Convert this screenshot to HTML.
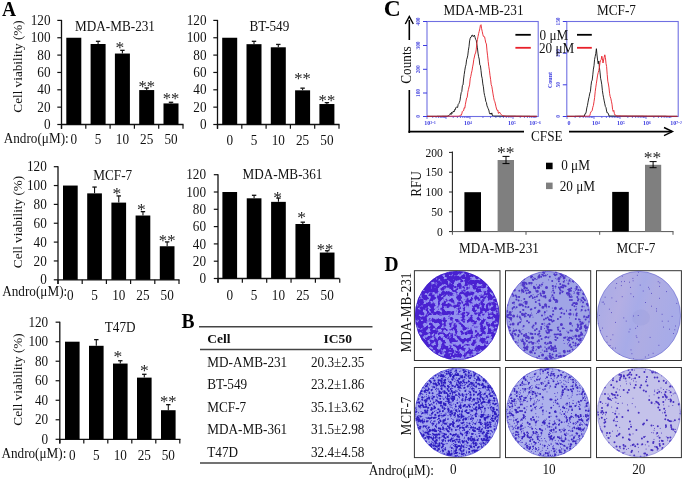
<!DOCTYPE html>
<html><head><meta charset="utf-8"><style>
html,body{margin:0;padding:0;background:#fff;}
svg{display:block;filter:blur(0.35px);}
text{font-family:"Liberation Serif",serif;}
</style></head><body>
<svg width="685" height="479" viewBox="0 0 685 479">
<rect width="685" height="479" fill="#fff"/>
<text transform="translate(2.00,15.60) scale(0.93,1)" font-size="21" text-anchor="start" font-weight="bold" fill="#000" >A</text>
<text transform="translate(181.50,327.60) scale(0.93,1)" font-size="21" text-anchor="start" font-weight="bold" fill="#000" >B</text>
<text transform="translate(383.80,16.00) scale(1.0,1)" font-size="23.5" text-anchor="start" font-weight="bold" fill="#000" >C</text>
<text transform="translate(384.50,270.60) scale(0.93,1)" font-size="21" text-anchor="start" font-weight="bold" fill="#000" >D</text>
<line x1="61.50" y1="19.90" x2="61.50" y2="128.80" stroke="#111" stroke-width="1.3" />
<line x1="57.30" y1="124.50" x2="61.50" y2="124.50" stroke="#111" stroke-width="1.2" />
<text transform="translate(50.50,129.10) scale(0.93,1)" font-size="14.2" text-anchor="end" font-weight="normal" fill="#111" >0</text>
<line x1="57.30" y1="107.15" x2="61.50" y2="107.15" stroke="#111" stroke-width="1.2" />
<text transform="translate(50.50,111.75) scale(0.93,1)" font-size="14.2" text-anchor="end" font-weight="normal" fill="#111" >20</text>
<line x1="57.30" y1="89.80" x2="61.50" y2="89.80" stroke="#111" stroke-width="1.2" />
<text transform="translate(50.50,94.40) scale(0.93,1)" font-size="14.2" text-anchor="end" font-weight="normal" fill="#111" >40</text>
<line x1="57.30" y1="72.45" x2="61.50" y2="72.45" stroke="#111" stroke-width="1.2" />
<text transform="translate(50.50,77.05) scale(0.93,1)" font-size="14.2" text-anchor="end" font-weight="normal" fill="#111" >60</text>
<line x1="57.30" y1="55.10" x2="61.50" y2="55.10" stroke="#111" stroke-width="1.2" />
<text transform="translate(50.50,59.70) scale(0.93,1)" font-size="14.2" text-anchor="end" font-weight="normal" fill="#111" >80</text>
<line x1="57.30" y1="37.75" x2="61.50" y2="37.75" stroke="#111" stroke-width="1.2" />
<text transform="translate(50.50,42.35) scale(0.93,1)" font-size="14.2" text-anchor="end" font-weight="normal" fill="#111" >100</text>
<line x1="57.30" y1="20.40" x2="61.50" y2="20.40" stroke="#111" stroke-width="1.2" />
<text transform="translate(50.50,25.00) scale(0.93,1)" font-size="14.2" text-anchor="end" font-weight="normal" fill="#111" >120</text>
<line x1="61.50" y1="124.50" x2="183.50" y2="124.50" stroke="#111" stroke-width="1.3" />
<line x1="61.50" y1="124.50" x2="61.50" y2="128.80" stroke="#111" stroke-width="1.2" />
<line x1="85.80" y1="124.50" x2="85.80" y2="128.80" stroke="#111" stroke-width="1.2" />
<line x1="110.10" y1="124.50" x2="110.10" y2="128.80" stroke="#111" stroke-width="1.2" />
<line x1="134.40" y1="124.50" x2="134.40" y2="128.80" stroke="#111" stroke-width="1.2" />
<line x1="158.70" y1="124.50" x2="158.70" y2="128.80" stroke="#111" stroke-width="1.2" />
<line x1="183.00" y1="124.50" x2="183.00" y2="128.80" stroke="#111" stroke-width="1.2" />
<rect x="66.30" y="37.75" width="15.00" height="86.75" fill="#000" />
<text transform="translate(73.80,144.00) scale(0.93,1)" font-size="14.2" text-anchor="middle" font-weight="normal" fill="#111" >0</text>
<rect x="90.60" y="44.00" width="15.00" height="80.50" fill="#000" />
<line x1="98.10" y1="41.31" x2="98.10" y2="44.00" stroke="#111" stroke-width="1.1" />
<line x1="95.90" y1="41.31" x2="100.30" y2="41.31" stroke="#111" stroke-width="1.3" />
<text transform="translate(98.10,144.00) scale(0.93,1)" font-size="14.2" text-anchor="middle" font-weight="normal" fill="#111" >5</text>
<rect x="114.90" y="53.54" width="15.00" height="70.96" fill="#000" />
<line x1="122.40" y1="50.33" x2="122.40" y2="53.54" stroke="#111" stroke-width="1.1" />
<line x1="120.20" y1="50.33" x2="124.60" y2="50.33" stroke="#111" stroke-width="1.3" />
<text transform="translate(119.90,53.24) scale(1,1)" font-size="17.5" text-anchor="middle" font-weight="normal" fill="#222" >*</text>
<text transform="translate(122.40,144.00) scale(0.93,1)" font-size="14.2" text-anchor="middle" font-weight="normal" fill="#111" >10</text>
<rect x="139.20" y="90.06" width="15.00" height="34.44" fill="#000" />
<line x1="146.70" y1="87.98" x2="146.70" y2="90.06" stroke="#111" stroke-width="1.1" />
<line x1="144.50" y1="87.98" x2="148.90" y2="87.98" stroke="#111" stroke-width="1.3" />
<text transform="translate(146.70,92.04) scale(0.95,1)" font-size="17.5" text-anchor="middle" font-weight="normal" fill="#222" >**</text>
<text transform="translate(146.70,144.00) scale(0.93,1)" font-size="14.2" text-anchor="middle" font-weight="normal" fill="#111" >25</text>
<rect x="163.50" y="103.42" width="15.00" height="21.08" fill="#000" />
<line x1="171.00" y1="102.29" x2="171.00" y2="103.42" stroke="#111" stroke-width="1.1" />
<line x1="168.80" y1="102.29" x2="173.20" y2="102.29" stroke="#111" stroke-width="1.3" />
<text transform="translate(171.00,104.44) scale(0.95,1)" font-size="17.5" text-anchor="middle" font-weight="normal" fill="#222" >**</text>
<text transform="translate(171.00,144.00) scale(0.93,1)" font-size="14.2" text-anchor="middle" font-weight="normal" fill="#111" >50</text>
<text transform="translate(115.00,30.60) scale(0.93,1)" font-size="14.2" text-anchor="middle" font-weight="normal" fill="#111" >MDA-MB-231</text>
<text transform="translate(3.70,143.40) scale(0.93,1)" font-size="14.2" text-anchor="start" font-weight="normal" fill="#111" >Andro(μM):</text>
<text x="0" y="0" font-size="14.2" text-anchor="middle" fill="#111" transform="translate(21.50,66.50) rotate(-90) scale(0.93,0.88)">Cell viability (%)</text>
<line x1="217.50" y1="19.90" x2="217.50" y2="128.80" stroke="#111" stroke-width="1.3" />
<line x1="213.30" y1="124.50" x2="217.50" y2="124.50" stroke="#111" stroke-width="1.2" />
<text transform="translate(206.50,129.10) scale(0.93,1)" font-size="14.2" text-anchor="end" font-weight="normal" fill="#111" >0</text>
<line x1="213.30" y1="107.15" x2="217.50" y2="107.15" stroke="#111" stroke-width="1.2" />
<text transform="translate(206.50,111.75) scale(0.93,1)" font-size="14.2" text-anchor="end" font-weight="normal" fill="#111" >20</text>
<line x1="213.30" y1="89.80" x2="217.50" y2="89.80" stroke="#111" stroke-width="1.2" />
<text transform="translate(206.50,94.40) scale(0.93,1)" font-size="14.2" text-anchor="end" font-weight="normal" fill="#111" >40</text>
<line x1="213.30" y1="72.45" x2="217.50" y2="72.45" stroke="#111" stroke-width="1.2" />
<text transform="translate(206.50,77.05) scale(0.93,1)" font-size="14.2" text-anchor="end" font-weight="normal" fill="#111" >60</text>
<line x1="213.30" y1="55.10" x2="217.50" y2="55.10" stroke="#111" stroke-width="1.2" />
<text transform="translate(206.50,59.70) scale(0.93,1)" font-size="14.2" text-anchor="end" font-weight="normal" fill="#111" >80</text>
<line x1="213.30" y1="37.75" x2="217.50" y2="37.75" stroke="#111" stroke-width="1.2" />
<text transform="translate(206.50,42.35) scale(0.93,1)" font-size="14.2" text-anchor="end" font-weight="normal" fill="#111" >100</text>
<line x1="213.30" y1="20.40" x2="217.50" y2="20.40" stroke="#111" stroke-width="1.2" />
<text transform="translate(206.50,25.00) scale(0.93,1)" font-size="14.2" text-anchor="end" font-weight="normal" fill="#111" >120</text>
<line x1="217.50" y1="124.50" x2="339.50" y2="124.50" stroke="#111" stroke-width="1.3" />
<line x1="217.50" y1="124.50" x2="217.50" y2="128.80" stroke="#111" stroke-width="1.2" />
<line x1="241.80" y1="124.50" x2="241.80" y2="128.80" stroke="#111" stroke-width="1.2" />
<line x1="266.10" y1="124.50" x2="266.10" y2="128.80" stroke="#111" stroke-width="1.2" />
<line x1="290.40" y1="124.50" x2="290.40" y2="128.80" stroke="#111" stroke-width="1.2" />
<line x1="314.70" y1="124.50" x2="314.70" y2="128.80" stroke="#111" stroke-width="1.2" />
<line x1="339.00" y1="124.50" x2="339.00" y2="128.80" stroke="#111" stroke-width="1.2" />
<rect x="222.20" y="37.75" width="15.00" height="86.75" fill="#000" />
<text transform="translate(229.70,144.50) scale(0.93,1)" font-size="14.2" text-anchor="middle" font-weight="normal" fill="#111" >0</text>
<rect x="246.50" y="44.17" width="15.00" height="80.33" fill="#000" />
<line x1="254.00" y1="41.31" x2="254.00" y2="44.17" stroke="#111" stroke-width="1.1" />
<line x1="251.80" y1="41.31" x2="256.20" y2="41.31" stroke="#111" stroke-width="1.3" />
<text transform="translate(254.00,144.50) scale(0.93,1)" font-size="14.2" text-anchor="middle" font-weight="normal" fill="#111" >5</text>
<rect x="270.80" y="47.29" width="15.00" height="77.21" fill="#000" />
<line x1="278.30" y1="44.43" x2="278.30" y2="47.29" stroke="#111" stroke-width="1.1" />
<line x1="276.10" y1="44.43" x2="280.50" y2="44.43" stroke="#111" stroke-width="1.3" />
<text transform="translate(278.30,144.50) scale(0.93,1)" font-size="14.2" text-anchor="middle" font-weight="normal" fill="#111" >10</text>
<rect x="295.10" y="90.32" width="15.00" height="34.18" fill="#000" />
<line x1="302.60" y1="88.15" x2="302.60" y2="90.32" stroke="#111" stroke-width="1.1" />
<line x1="300.40" y1="88.15" x2="304.80" y2="88.15" stroke="#111" stroke-width="1.3" />
<text transform="translate(302.60,83.64) scale(0.95,1)" font-size="17.5" text-anchor="middle" font-weight="normal" fill="#222" >**</text>
<text transform="translate(302.60,144.50) scale(0.93,1)" font-size="14.2" text-anchor="middle" font-weight="normal" fill="#111" >25</text>
<rect x="319.40" y="104.03" width="15.00" height="20.47" fill="#000" />
<line x1="326.90" y1="102.64" x2="326.90" y2="104.03" stroke="#111" stroke-width="1.1" />
<line x1="324.70" y1="102.64" x2="329.10" y2="102.64" stroke="#111" stroke-width="1.3" />
<text transform="translate(326.90,105.94) scale(0.95,1)" font-size="17.5" text-anchor="middle" font-weight="normal" fill="#222" >**</text>
<text transform="translate(326.90,144.50) scale(0.93,1)" font-size="14.2" text-anchor="middle" font-weight="normal" fill="#111" >50</text>
<text transform="translate(269.40,30.50) scale(0.93,1)" font-size="14.2" text-anchor="middle" font-weight="normal" fill="#111" >BT-549</text>
<line x1="58.00" y1="166.20" x2="58.00" y2="284.10" stroke="#111" stroke-width="1.3" />
<line x1="53.80" y1="279.80" x2="58.00" y2="279.80" stroke="#111" stroke-width="1.2" />
<text transform="translate(46.80,284.40) scale(0.93,1)" font-size="14.2" text-anchor="end" font-weight="normal" fill="#111" >0</text>
<line x1="53.80" y1="260.95" x2="58.00" y2="260.95" stroke="#111" stroke-width="1.2" />
<text transform="translate(46.80,265.55) scale(0.93,1)" font-size="14.2" text-anchor="end" font-weight="normal" fill="#111" >20</text>
<line x1="53.80" y1="242.10" x2="58.00" y2="242.10" stroke="#111" stroke-width="1.2" />
<text transform="translate(46.80,246.70) scale(0.93,1)" font-size="14.2" text-anchor="end" font-weight="normal" fill="#111" >40</text>
<line x1="53.80" y1="223.25" x2="58.00" y2="223.25" stroke="#111" stroke-width="1.2" />
<text transform="translate(46.80,227.85) scale(0.93,1)" font-size="14.2" text-anchor="end" font-weight="normal" fill="#111" >60</text>
<line x1="53.80" y1="204.40" x2="58.00" y2="204.40" stroke="#111" stroke-width="1.2" />
<text transform="translate(46.80,209.00) scale(0.93,1)" font-size="14.2" text-anchor="end" font-weight="normal" fill="#111" >80</text>
<line x1="53.80" y1="185.55" x2="58.00" y2="185.55" stroke="#111" stroke-width="1.2" />
<text transform="translate(46.80,190.15) scale(0.93,1)" font-size="14.2" text-anchor="end" font-weight="normal" fill="#111" >100</text>
<line x1="53.80" y1="166.70" x2="58.00" y2="166.70" stroke="#111" stroke-width="1.2" />
<text transform="translate(46.80,171.30) scale(0.93,1)" font-size="14.2" text-anchor="end" font-weight="normal" fill="#111" >120</text>
<line x1="58.00" y1="279.80" x2="179.50" y2="279.80" stroke="#111" stroke-width="1.3" />
<line x1="58.00" y1="279.80" x2="58.00" y2="284.10" stroke="#111" stroke-width="1.2" />
<line x1="82.20" y1="279.80" x2="82.20" y2="284.10" stroke="#111" stroke-width="1.2" />
<line x1="106.40" y1="279.80" x2="106.40" y2="284.10" stroke="#111" stroke-width="1.2" />
<line x1="130.60" y1="279.80" x2="130.60" y2="284.10" stroke="#111" stroke-width="1.2" />
<line x1="154.80" y1="279.80" x2="154.80" y2="284.10" stroke="#111" stroke-width="1.2" />
<line x1="179.00" y1="279.80" x2="179.00" y2="284.10" stroke="#111" stroke-width="1.2" />
<rect x="63.00" y="185.55" width="14.70" height="94.25" fill="#000" />
<text transform="translate(70.35,299.50) scale(0.93,1)" font-size="14.2" text-anchor="middle" font-weight="normal" fill="#111" >0</text>
<rect x="87.20" y="193.37" width="14.70" height="86.43" fill="#000" />
<line x1="94.55" y1="187.06" x2="94.55" y2="193.37" stroke="#111" stroke-width="1.1" />
<line x1="92.35" y1="187.06" x2="96.75" y2="187.06" stroke="#111" stroke-width="1.3" />
<text transform="translate(94.55,299.50) scale(0.93,1)" font-size="14.2" text-anchor="middle" font-weight="normal" fill="#111" >5</text>
<rect x="111.40" y="202.61" width="14.70" height="77.19" fill="#000" />
<line x1="118.75" y1="195.92" x2="118.75" y2="202.61" stroke="#111" stroke-width="1.1" />
<line x1="116.55" y1="195.92" x2="120.95" y2="195.92" stroke="#111" stroke-width="1.3" />
<text transform="translate(116.95,198.84) scale(1,1)" font-size="17.5" text-anchor="middle" font-weight="normal" fill="#222" >*</text>
<text transform="translate(118.75,299.50) scale(0.93,1)" font-size="14.2" text-anchor="middle" font-weight="normal" fill="#111" >10</text>
<rect x="135.60" y="215.52" width="14.70" height="64.28" fill="#000" />
<line x1="142.95" y1="211.66" x2="142.95" y2="215.52" stroke="#111" stroke-width="1.1" />
<line x1="140.75" y1="211.66" x2="145.15" y2="211.66" stroke="#111" stroke-width="1.3" />
<text transform="translate(141.45,214.54) scale(1,1)" font-size="17.5" text-anchor="middle" font-weight="normal" fill="#222" >*</text>
<text transform="translate(142.95,299.50) scale(0.93,1)" font-size="14.2" text-anchor="middle" font-weight="normal" fill="#111" >25</text>
<rect x="159.80" y="246.25" width="14.70" height="33.55" fill="#000" />
<line x1="167.15" y1="241.91" x2="167.15" y2="246.25" stroke="#111" stroke-width="1.1" />
<line x1="164.95" y1="241.91" x2="169.35" y2="241.91" stroke="#111" stroke-width="1.3" />
<text transform="translate(167.15,246.34) scale(0.95,1)" font-size="17.5" text-anchor="middle" font-weight="normal" fill="#222" >**</text>
<text transform="translate(167.15,299.50) scale(0.93,1)" font-size="14.2" text-anchor="middle" font-weight="normal" fill="#111" >50</text>
<text transform="translate(112.70,180.00) scale(0.93,1)" font-size="14.2" text-anchor="middle" font-weight="normal" fill="#111" >MCF-7</text>
<text transform="translate(2.20,296.40) scale(0.93,1)" font-size="14.2" text-anchor="start" font-weight="normal" fill="#111" >Andro(μM):</text>
<text x="0" y="0" font-size="14.2" text-anchor="middle" fill="#111" transform="translate(21.50,222.00) rotate(-90) scale(0.93,0.88)">Cell viability (%)</text>
<line x1="218.00" y1="174.20" x2="218.00" y2="282.80" stroke="#111" stroke-width="1.3" />
<line x1="213.80" y1="278.50" x2="218.00" y2="278.50" stroke="#111" stroke-width="1.2" />
<text transform="translate(206.00,283.10) scale(0.93,1)" font-size="14.2" text-anchor="end" font-weight="normal" fill="#111" >0</text>
<line x1="213.80" y1="261.20" x2="218.00" y2="261.20" stroke="#111" stroke-width="1.2" />
<text transform="translate(206.00,265.80) scale(0.93,1)" font-size="14.2" text-anchor="end" font-weight="normal" fill="#111" >20</text>
<line x1="213.80" y1="243.90" x2="218.00" y2="243.90" stroke="#111" stroke-width="1.2" />
<text transform="translate(206.00,248.50) scale(0.93,1)" font-size="14.2" text-anchor="end" font-weight="normal" fill="#111" >40</text>
<line x1="213.80" y1="226.60" x2="218.00" y2="226.60" stroke="#111" stroke-width="1.2" />
<text transform="translate(206.00,231.20) scale(0.93,1)" font-size="14.2" text-anchor="end" font-weight="normal" fill="#111" >60</text>
<line x1="213.80" y1="209.30" x2="218.00" y2="209.30" stroke="#111" stroke-width="1.2" />
<text transform="translate(206.00,213.90) scale(0.93,1)" font-size="14.2" text-anchor="end" font-weight="normal" fill="#111" >80</text>
<line x1="213.80" y1="192.00" x2="218.00" y2="192.00" stroke="#111" stroke-width="1.2" />
<text transform="translate(206.00,196.60) scale(0.93,1)" font-size="14.2" text-anchor="end" font-weight="normal" fill="#111" >100</text>
<line x1="213.80" y1="174.70" x2="218.00" y2="174.70" stroke="#111" stroke-width="1.2" />
<text transform="translate(206.00,179.30) scale(0.93,1)" font-size="14.2" text-anchor="end" font-weight="normal" fill="#111" >120</text>
<line x1="218.00" y1="278.50" x2="339.50" y2="278.50" stroke="#111" stroke-width="1.3" />
<line x1="218.00" y1="278.50" x2="218.00" y2="282.80" stroke="#111" stroke-width="1.2" />
<line x1="242.35" y1="278.50" x2="242.35" y2="282.80" stroke="#111" stroke-width="1.2" />
<line x1="266.70" y1="278.50" x2="266.70" y2="282.80" stroke="#111" stroke-width="1.2" />
<line x1="291.05" y1="278.50" x2="291.05" y2="282.80" stroke="#111" stroke-width="1.2" />
<line x1="315.40" y1="278.50" x2="315.40" y2="282.80" stroke="#111" stroke-width="1.2" />
<line x1="339.75" y1="278.50" x2="339.75" y2="282.80" stroke="#111" stroke-width="1.2" />
<rect x="222.40" y="192.00" width="14.70" height="86.50" fill="#000" />
<text transform="translate(229.75,299.70) scale(0.93,1)" font-size="14.2" text-anchor="middle" font-weight="normal" fill="#111" >0</text>
<rect x="246.75" y="198.31" width="14.70" height="80.19" fill="#000" />
<line x1="254.10" y1="195.29" x2="254.10" y2="198.31" stroke="#111" stroke-width="1.1" />
<line x1="251.90" y1="195.29" x2="256.30" y2="195.29" stroke="#111" stroke-width="1.3" />
<text transform="translate(254.10,299.70) scale(0.93,1)" font-size="14.2" text-anchor="middle" font-weight="normal" fill="#111" >5</text>
<rect x="271.10" y="201.86" width="14.70" height="76.64" fill="#000" />
<line x1="278.45" y1="198.06" x2="278.45" y2="201.86" stroke="#111" stroke-width="1.1" />
<line x1="276.25" y1="198.06" x2="280.65" y2="198.06" stroke="#111" stroke-width="1.3" />
<text transform="translate(277.55,202.64) scale(1,1)" font-size="17.5" text-anchor="middle" font-weight="normal" fill="#222" >*</text>
<text transform="translate(278.45,299.70) scale(0.93,1)" font-size="14.2" text-anchor="middle" font-weight="normal" fill="#111" >10</text>
<rect x="295.45" y="224.00" width="14.70" height="54.50" fill="#000" />
<line x1="302.80" y1="222.19" x2="302.80" y2="224.00" stroke="#111" stroke-width="1.1" />
<line x1="300.60" y1="222.19" x2="305.00" y2="222.19" stroke="#111" stroke-width="1.3" />
<text transform="translate(301.60,223.44) scale(1,1)" font-size="17.5" text-anchor="middle" font-weight="normal" fill="#222" >*</text>
<text transform="translate(302.80,299.70) scale(0.93,1)" font-size="14.2" text-anchor="middle" font-weight="normal" fill="#111" >25</text>
<rect x="319.80" y="252.55" width="14.70" height="25.95" fill="#000" />
<line x1="327.15" y1="250.73" x2="327.15" y2="252.55" stroke="#111" stroke-width="1.1" />
<line x1="324.95" y1="250.73" x2="329.35" y2="250.73" stroke="#111" stroke-width="1.3" />
<text transform="translate(325.05,255.14) scale(0.95,1)" font-size="17.5" text-anchor="middle" font-weight="normal" fill="#222" >**</text>
<text transform="translate(327.15,299.70) scale(0.93,1)" font-size="14.2" text-anchor="middle" font-weight="normal" fill="#111" >50</text>
<text transform="translate(282.40,179.20) scale(0.93,1)" font-size="14.2" text-anchor="middle" font-weight="normal" fill="#111" >MDA-MB-361</text>
<line x1="59.80" y1="321.68" x2="59.80" y2="443.60" stroke="#111" stroke-width="1.3" />
<line x1="55.60" y1="439.30" x2="59.80" y2="439.30" stroke="#111" stroke-width="1.2" />
<text transform="translate(48.20,443.90) scale(0.93,1)" font-size="14.2" text-anchor="end" font-weight="normal" fill="#111" >0</text>
<line x1="55.60" y1="419.78" x2="59.80" y2="419.78" stroke="#111" stroke-width="1.2" />
<text transform="translate(48.20,424.38) scale(0.93,1)" font-size="14.2" text-anchor="end" font-weight="normal" fill="#111" >20</text>
<line x1="55.60" y1="400.26" x2="59.80" y2="400.26" stroke="#111" stroke-width="1.2" />
<text transform="translate(48.20,404.86) scale(0.93,1)" font-size="14.2" text-anchor="end" font-weight="normal" fill="#111" >40</text>
<line x1="55.60" y1="380.74" x2="59.80" y2="380.74" stroke="#111" stroke-width="1.2" />
<text transform="translate(48.20,385.34) scale(0.93,1)" font-size="14.2" text-anchor="end" font-weight="normal" fill="#111" >60</text>
<line x1="55.60" y1="361.22" x2="59.80" y2="361.22" stroke="#111" stroke-width="1.2" />
<text transform="translate(48.20,365.82) scale(0.93,1)" font-size="14.2" text-anchor="end" font-weight="normal" fill="#111" >80</text>
<line x1="55.60" y1="341.70" x2="59.80" y2="341.70" stroke="#111" stroke-width="1.2" />
<text transform="translate(48.20,346.30) scale(0.93,1)" font-size="14.2" text-anchor="end" font-weight="normal" fill="#111" >100</text>
<line x1="55.60" y1="322.18" x2="59.80" y2="322.18" stroke="#111" stroke-width="1.2" />
<text transform="translate(48.20,326.78) scale(0.93,1)" font-size="14.2" text-anchor="end" font-weight="normal" fill="#111" >120</text>
<line x1="59.80" y1="439.30" x2="180.50" y2="439.30" stroke="#111" stroke-width="1.3" />
<line x1="59.80" y1="439.30" x2="59.80" y2="443.60" stroke="#111" stroke-width="1.2" />
<line x1="83.80" y1="439.30" x2="83.80" y2="443.60" stroke="#111" stroke-width="1.2" />
<line x1="107.80" y1="439.30" x2="107.80" y2="443.60" stroke="#111" stroke-width="1.2" />
<line x1="131.80" y1="439.30" x2="131.80" y2="443.60" stroke="#111" stroke-width="1.2" />
<line x1="155.80" y1="439.30" x2="155.80" y2="443.60" stroke="#111" stroke-width="1.2" />
<line x1="179.80" y1="439.30" x2="179.80" y2="443.60" stroke="#111" stroke-width="1.2" />
<rect x="65.00" y="341.70" width="14.60" height="97.60" fill="#000" />
<text transform="translate(72.30,460.00) scale(0.93,1)" font-size="14.2" text-anchor="middle" font-weight="normal" fill="#111" >0</text>
<rect x="89.00" y="345.80" width="14.60" height="93.50" fill="#000" />
<line x1="96.30" y1="339.65" x2="96.30" y2="345.80" stroke="#111" stroke-width="1.1" />
<line x1="94.10" y1="339.65" x2="98.50" y2="339.65" stroke="#111" stroke-width="1.3" />
<text transform="translate(96.30,460.00) scale(0.93,1)" font-size="14.2" text-anchor="middle" font-weight="normal" fill="#111" >5</text>
<rect x="113.00" y="363.56" width="14.60" height="75.74" fill="#000" />
<line x1="120.30" y1="360.73" x2="120.30" y2="363.56" stroke="#111" stroke-width="1.1" />
<line x1="118.10" y1="360.73" x2="122.50" y2="360.73" stroke="#111" stroke-width="1.3" />
<text transform="translate(117.80,361.54) scale(1,1)" font-size="17.5" text-anchor="middle" font-weight="normal" fill="#222" >*</text>
<text transform="translate(120.30,460.00) scale(0.93,1)" font-size="14.2" text-anchor="middle" font-weight="normal" fill="#111" >10</text>
<rect x="137.00" y="377.62" width="14.60" height="61.68" fill="#000" />
<line x1="144.30" y1="374.30" x2="144.30" y2="377.62" stroke="#111" stroke-width="1.1" />
<line x1="142.10" y1="374.30" x2="146.50" y2="374.30" stroke="#111" stroke-width="1.3" />
<text transform="translate(144.30,375.54) scale(1,1)" font-size="17.5" text-anchor="middle" font-weight="normal" fill="#222" >*</text>
<text transform="translate(144.30,460.00) scale(0.93,1)" font-size="14.2" text-anchor="middle" font-weight="normal" fill="#111" >25</text>
<rect x="161.00" y="410.22" width="14.60" height="29.08" fill="#000" />
<line x1="168.30" y1="404.65" x2="168.30" y2="410.22" stroke="#111" stroke-width="1.1" />
<line x1="166.10" y1="404.65" x2="170.50" y2="404.65" stroke="#111" stroke-width="1.3" />
<text transform="translate(168.30,406.84) scale(0.95,1)" font-size="17.5" text-anchor="middle" font-weight="normal" fill="#222" >**</text>
<text transform="translate(168.30,460.00) scale(0.93,1)" font-size="14.2" text-anchor="middle" font-weight="normal" fill="#111" >50</text>
<text transform="translate(120.20,332.20) scale(0.93,1)" font-size="14.2" text-anchor="middle" font-weight="normal" fill="#111" >T47D</text>
<text transform="translate(1.40,457.70) scale(0.93,1)" font-size="14.2" text-anchor="start" font-weight="normal" fill="#111" >Andro(μM):</text>
<text x="0" y="0" font-size="14.2" text-anchor="middle" fill="#111" transform="translate(21.50,379.50) rotate(-90) scale(0.93,0.88)">Cell viability (%)</text>
<line x1="199.00" y1="326.80" x2="372.50" y2="326.80" stroke="#444" stroke-width="1.5" />
<line x1="200.00" y1="349.60" x2="372.00" y2="349.60" stroke="#444" stroke-width="1.5" />
<line x1="200.00" y1="463.00" x2="372.00" y2="463.00" stroke="#444" stroke-width="1.5" />
<text transform="translate(207.30,343.20) scale(1,1)" font-size="13.5" text-anchor="start" font-weight="bold" fill="#111" >Cell</text>
<text transform="translate(323.50,343.20) scale(1,1)" font-size="13.5" text-anchor="start" font-weight="bold" fill="#111" >IC50</text>
<text transform="translate(207.30,366.80) scale(0.93,1)" font-size="14.2" text-anchor="start" font-weight="normal" fill="#111" >MD-AMB-231</text>
<text transform="translate(310.90,366.80) scale(0.93,1)" font-size="14.2" text-anchor="start" font-weight="normal" fill="#111" >20.3±2.35</text>
<text transform="translate(207.30,389.30) scale(0.93,1)" font-size="14.2" text-anchor="start" font-weight="normal" fill="#111" >BT-549</text>
<text transform="translate(310.90,389.30) scale(0.93,1)" font-size="14.2" text-anchor="start" font-weight="normal" fill="#111" >23.2±1.86</text>
<text transform="translate(207.30,411.80) scale(0.93,1)" font-size="14.2" text-anchor="start" font-weight="normal" fill="#111" >MCF-7</text>
<text transform="translate(310.90,411.80) scale(0.93,1)" font-size="14.2" text-anchor="start" font-weight="normal" fill="#111" >35.1±3.62</text>
<text transform="translate(207.30,434.30) scale(0.93,1)" font-size="14.2" text-anchor="start" font-weight="normal" fill="#111" >MDA-MB-361</text>
<text transform="translate(310.90,434.30) scale(0.93,1)" font-size="14.2" text-anchor="start" font-weight="normal" fill="#111" >31.5±2.98</text>
<text transform="translate(207.30,456.80) scale(0.93,1)" font-size="14.2" text-anchor="start" font-weight="normal" fill="#111" >T47D</text>
<text transform="translate(310.90,456.80) scale(0.93,1)" font-size="14.2" text-anchor="start" font-weight="normal" fill="#111" >32.4±4.58</text>
<text transform="translate(443.60,15.00) scale(0.93,1)" font-size="14.2" text-anchor="start" font-weight="normal" fill="#111" >MDA-MB-231</text>
<text transform="translate(597.00,15.00) scale(0.93,1)" font-size="14.2" text-anchor="start" font-weight="normal" fill="#111" >MCF-7</text>
<line x1="409.30" y1="20.00" x2="409.30" y2="40.00" stroke="#000" stroke-width="1.6" />
<path d="M405.3,24 L409.3,16.5 L413.3,24" fill="none" stroke="#000" stroke-width="1.4"/>
<line x1="409.30" y1="90.00" x2="409.30" y2="133.00" stroke="#000" stroke-width="1.6" />
<text x="0" y="0" font-size="14.2" text-anchor="middle" fill="#111" transform="translate(410.80,65.00) rotate(-90) scale(0.93,1)">Counts</text>
<line x1="408.50" y1="131.60" x2="524.00" y2="131.60" stroke="#000" stroke-width="1.6" />
<line x1="569.00" y1="131.60" x2="672.00" y2="131.60" stroke="#000" stroke-width="1.6" />
<path d="M664,127.5 L672.5,131.6 L664,135.7" fill="none" stroke="#000" stroke-width="1.4"/>
<text transform="translate(531.00,141.00) scale(0.93,1)" font-size="14.2" text-anchor="start" font-weight="normal" fill="#111" >CFSE</text>
<rect x="427" y="21.5" width="111.2" height="95" fill="none" stroke="#6f6fe2" stroke-width="1.1"/>
<rect x="566.8" y="21.5" width="111.4" height="95" fill="none" stroke="#6f6fe2" stroke-width="1.1"/>
<line x1="423.00" y1="21.50" x2="427.00" y2="21.50" stroke="#3c3ce0" stroke-width="1.0" />
<text x="0" y="0" font-size="5.4" font-weight="bold" fill="#5050e0" text-anchor="middle" transform="translate(420.3,21.5) rotate(-90) scale(1,1.1)">400</text>
<line x1="423.00" y1="45.50" x2="427.00" y2="45.50" stroke="#3c3ce0" stroke-width="1.0" />
<text x="0" y="0" font-size="5.4" font-weight="bold" fill="#5050e0" text-anchor="middle" transform="translate(420.3,45.5) rotate(-90) scale(1,1.1)">300</text>
<line x1="423.00" y1="69.30" x2="427.00" y2="69.30" stroke="#3c3ce0" stroke-width="1.0" />
<text x="0" y="0" font-size="5.4" font-weight="bold" fill="#5050e0" text-anchor="middle" transform="translate(420.3,69.3) rotate(-90) scale(1,1.1)">200</text>
<line x1="423.00" y1="93.00" x2="427.00" y2="93.00" stroke="#3c3ce0" stroke-width="1.0" />
<text x="0" y="0" font-size="5.4" font-weight="bold" fill="#5050e0" text-anchor="middle" transform="translate(420.3,93.0) rotate(-90) scale(1,1.1)">100</text>
<line x1="423.00" y1="116.50" x2="427.00" y2="116.50" stroke="#3c3ce0" stroke-width="1.0" />
<text x="0" y="0" font-size="5.4" font-weight="bold" fill="#5050e0" text-anchor="middle" transform="translate(420.3,116.5) rotate(-90) scale(1,1.1)">0</text>
<line x1="562.80" y1="21.50" x2="566.80" y2="21.50" stroke="#3c3ce0" stroke-width="1.0" />
<text x="0" y="0" font-size="5.4" font-weight="bold" fill="#5050e0" text-anchor="middle" transform="translate(560.2,21.5) rotate(-90) scale(1,1.1)">150</text>
<line x1="562.80" y1="53.20" x2="566.80" y2="53.20" stroke="#3c3ce0" stroke-width="1.0" />
<text x="0" y="0" font-size="5.4" font-weight="bold" fill="#5050e0" text-anchor="middle" transform="translate(560.2,53.2) rotate(-90) scale(1,1.1)">100</text>
<line x1="562.80" y1="84.80" x2="566.80" y2="84.80" stroke="#3c3ce0" stroke-width="1.0" />
<text x="0" y="0" font-size="5.4" font-weight="bold" fill="#5050e0" text-anchor="middle" transform="translate(560.2,84.8) rotate(-90) scale(1,1.1)">50</text>
<line x1="562.80" y1="116.50" x2="566.80" y2="116.50" stroke="#3c3ce0" stroke-width="1.0" />
<text x="0" y="0" font-size="5.4" font-weight="bold" fill="#5050e0" text-anchor="middle" transform="translate(560.2,116.5) rotate(-90) scale(1,1.1)">0</text>
<text x="0" y="0" font-size="6" font-weight="bold" fill="#3c3ce0" text-anchor="middle" transform="translate(552,80) rotate(-90)">Count</text>
<line x1="427.00" y1="116.50" x2="427.00" y2="119.00" stroke="#3c3ce0" stroke-width="0.7" />
<line x1="432.72" y1="116.50" x2="432.72" y2="118.00" stroke="#3c3ce0" stroke-width="0.7" />
<line x1="436.07" y1="116.50" x2="436.07" y2="118.00" stroke="#3c3ce0" stroke-width="0.7" />
<line x1="438.44" y1="116.50" x2="438.44" y2="118.00" stroke="#3c3ce0" stroke-width="0.7" />
<line x1="440.28" y1="116.50" x2="440.28" y2="118.00" stroke="#3c3ce0" stroke-width="0.7" />
<line x1="441.78" y1="116.50" x2="441.78" y2="118.00" stroke="#3c3ce0" stroke-width="0.7" />
<line x1="443.06" y1="116.50" x2="443.06" y2="118.00" stroke="#3c3ce0" stroke-width="0.7" />
<line x1="444.16" y1="116.50" x2="444.16" y2="118.00" stroke="#3c3ce0" stroke-width="0.7" />
<line x1="445.13" y1="116.50" x2="445.13" y2="118.00" stroke="#3c3ce0" stroke-width="0.7" />
<line x1="446.00" y1="116.50" x2="446.00" y2="119.00" stroke="#3c3ce0" stroke-width="0.7" />
<line x1="453.22" y1="116.50" x2="453.22" y2="118.00" stroke="#3c3ce0" stroke-width="0.7" />
<line x1="457.45" y1="116.50" x2="457.45" y2="118.00" stroke="#3c3ce0" stroke-width="0.7" />
<line x1="460.45" y1="116.50" x2="460.45" y2="118.00" stroke="#3c3ce0" stroke-width="0.7" />
<line x1="462.78" y1="116.50" x2="462.78" y2="118.00" stroke="#3c3ce0" stroke-width="0.7" />
<line x1="464.68" y1="116.50" x2="464.68" y2="118.00" stroke="#3c3ce0" stroke-width="0.7" />
<line x1="466.28" y1="116.50" x2="466.28" y2="118.00" stroke="#3c3ce0" stroke-width="0.7" />
<line x1="467.67" y1="116.50" x2="467.67" y2="118.00" stroke="#3c3ce0" stroke-width="0.7" />
<line x1="468.90" y1="116.50" x2="468.90" y2="118.00" stroke="#3c3ce0" stroke-width="0.7" />
<line x1="470.00" y1="116.50" x2="470.00" y2="119.00" stroke="#3c3ce0" stroke-width="0.7" />
<line x1="482.94" y1="116.50" x2="482.94" y2="118.00" stroke="#3c3ce0" stroke-width="0.7" />
<line x1="490.52" y1="116.50" x2="490.52" y2="118.00" stroke="#3c3ce0" stroke-width="0.7" />
<line x1="495.89" y1="116.50" x2="495.89" y2="118.00" stroke="#3c3ce0" stroke-width="0.7" />
<line x1="500.06" y1="116.50" x2="500.06" y2="118.00" stroke="#3c3ce0" stroke-width="0.7" />
<line x1="503.46" y1="116.50" x2="503.46" y2="118.00" stroke="#3c3ce0" stroke-width="0.7" />
<line x1="506.34" y1="116.50" x2="506.34" y2="118.00" stroke="#3c3ce0" stroke-width="0.7" />
<line x1="508.83" y1="116.50" x2="508.83" y2="118.00" stroke="#3c3ce0" stroke-width="0.7" />
<line x1="511.03" y1="116.50" x2="511.03" y2="118.00" stroke="#3c3ce0" stroke-width="0.7" />
<line x1="513.00" y1="116.50" x2="513.00" y2="119.00" stroke="#3c3ce0" stroke-width="0.7" />
<line x1="520.22" y1="116.50" x2="520.22" y2="118.00" stroke="#3c3ce0" stroke-width="0.7" />
<line x1="524.45" y1="116.50" x2="524.45" y2="118.00" stroke="#3c3ce0" stroke-width="0.7" />
<line x1="527.45" y1="116.50" x2="527.45" y2="118.00" stroke="#3c3ce0" stroke-width="0.7" />
<line x1="529.78" y1="116.50" x2="529.78" y2="118.00" stroke="#3c3ce0" stroke-width="0.7" />
<line x1="531.68" y1="116.50" x2="531.68" y2="118.00" stroke="#3c3ce0" stroke-width="0.7" />
<line x1="533.28" y1="116.50" x2="533.28" y2="118.00" stroke="#3c3ce0" stroke-width="0.7" />
<line x1="534.67" y1="116.50" x2="534.67" y2="118.00" stroke="#3c3ce0" stroke-width="0.7" />
<line x1="535.90" y1="116.50" x2="535.90" y2="118.00" stroke="#3c3ce0" stroke-width="0.7" />
<line x1="567.00" y1="116.50" x2="567.00" y2="119.00" stroke="#3c3ce0" stroke-width="0.7" />
<line x1="575.13" y1="116.50" x2="575.13" y2="118.00" stroke="#3c3ce0" stroke-width="0.7" />
<line x1="579.88" y1="116.50" x2="579.88" y2="118.00" stroke="#3c3ce0" stroke-width="0.7" />
<line x1="583.26" y1="116.50" x2="583.26" y2="118.00" stroke="#3c3ce0" stroke-width="0.7" />
<line x1="585.87" y1="116.50" x2="585.87" y2="118.00" stroke="#3c3ce0" stroke-width="0.7" />
<line x1="588.01" y1="116.50" x2="588.01" y2="118.00" stroke="#3c3ce0" stroke-width="0.7" />
<line x1="589.82" y1="116.50" x2="589.82" y2="118.00" stroke="#3c3ce0" stroke-width="0.7" />
<line x1="591.38" y1="116.50" x2="591.38" y2="118.00" stroke="#3c3ce0" stroke-width="0.7" />
<line x1="592.76" y1="116.50" x2="592.76" y2="118.00" stroke="#3c3ce0" stroke-width="0.7" />
<line x1="594.00" y1="116.50" x2="594.00" y2="119.00" stroke="#3c3ce0" stroke-width="0.7" />
<line x1="601.83" y1="116.50" x2="601.83" y2="118.00" stroke="#3c3ce0" stroke-width="0.7" />
<line x1="606.41" y1="116.50" x2="606.41" y2="118.00" stroke="#3c3ce0" stroke-width="0.7" />
<line x1="609.65" y1="116.50" x2="609.65" y2="118.00" stroke="#3c3ce0" stroke-width="0.7" />
<line x1="612.17" y1="116.50" x2="612.17" y2="118.00" stroke="#3c3ce0" stroke-width="0.7" />
<line x1="614.23" y1="116.50" x2="614.23" y2="118.00" stroke="#3c3ce0" stroke-width="0.7" />
<line x1="615.97" y1="116.50" x2="615.97" y2="118.00" stroke="#3c3ce0" stroke-width="0.7" />
<line x1="617.48" y1="116.50" x2="617.48" y2="118.00" stroke="#3c3ce0" stroke-width="0.7" />
<line x1="618.81" y1="116.50" x2="618.81" y2="118.00" stroke="#3c3ce0" stroke-width="0.7" />
<line x1="620.00" y1="116.50" x2="620.00" y2="119.00" stroke="#3c3ce0" stroke-width="0.7" />
<line x1="627.83" y1="116.50" x2="627.83" y2="118.00" stroke="#3c3ce0" stroke-width="0.7" />
<line x1="632.41" y1="116.50" x2="632.41" y2="118.00" stroke="#3c3ce0" stroke-width="0.7" />
<line x1="635.65" y1="116.50" x2="635.65" y2="118.00" stroke="#3c3ce0" stroke-width="0.7" />
<line x1="638.17" y1="116.50" x2="638.17" y2="118.00" stroke="#3c3ce0" stroke-width="0.7" />
<line x1="640.23" y1="116.50" x2="640.23" y2="118.00" stroke="#3c3ce0" stroke-width="0.7" />
<line x1="641.97" y1="116.50" x2="641.97" y2="118.00" stroke="#3c3ce0" stroke-width="0.7" />
<line x1="643.48" y1="116.50" x2="643.48" y2="118.00" stroke="#3c3ce0" stroke-width="0.7" />
<line x1="644.81" y1="116.50" x2="644.81" y2="118.00" stroke="#3c3ce0" stroke-width="0.7" />
<line x1="646.00" y1="116.50" x2="646.00" y2="119.00" stroke="#3c3ce0" stroke-width="0.7" />
<line x1="653.83" y1="116.50" x2="653.83" y2="118.00" stroke="#3c3ce0" stroke-width="0.7" />
<line x1="658.41" y1="116.50" x2="658.41" y2="118.00" stroke="#3c3ce0" stroke-width="0.7" />
<line x1="661.65" y1="116.50" x2="661.65" y2="118.00" stroke="#3c3ce0" stroke-width="0.7" />
<line x1="664.17" y1="116.50" x2="664.17" y2="118.00" stroke="#3c3ce0" stroke-width="0.7" />
<line x1="666.23" y1="116.50" x2="666.23" y2="118.00" stroke="#3c3ce0" stroke-width="0.7" />
<line x1="667.97" y1="116.50" x2="667.97" y2="118.00" stroke="#3c3ce0" stroke-width="0.7" />
<line x1="669.48" y1="116.50" x2="669.48" y2="118.00" stroke="#3c3ce0" stroke-width="0.7" />
<line x1="670.81" y1="116.50" x2="670.81" y2="118.00" stroke="#3c3ce0" stroke-width="0.7" />
<text x="430" y="125" font-size="6" font-weight="bold" fill="#3c3ce0" text-anchor="middle">10³·¹</text>
<text x="468" y="125" font-size="6" font-weight="bold" fill="#3c3ce0" text-anchor="middle">10⁴</text>
<text x="512" y="125" font-size="6" font-weight="bold" fill="#3c3ce0" text-anchor="middle">10⁵</text>
<text x="535" y="125" font-size="6" font-weight="bold" fill="#3c3ce0" text-anchor="middle">10⁵·⁶</text>
<text x="569" y="125" font-size="6" font-weight="bold" fill="#3c3ce0" text-anchor="middle">0</text>
<text x="596" y="125" font-size="6" font-weight="bold" fill="#3c3ce0" text-anchor="middle">10⁴</text>
<text x="621" y="125" font-size="6" font-weight="bold" fill="#3c3ce0" text-anchor="middle">10⁵</text>
<text x="647" y="125" font-size="6" font-weight="bold" fill="#3c3ce0" text-anchor="middle">10⁶</text>
<text x="676" y="125" font-size="6" font-weight="bold" fill="#3c3ce0" text-anchor="middle">10⁷·²</text>
<polyline points="427.0,116.3 427.6,116.3 428.2,116.3 428.8,116.3 429.4,116.3 430.0,116.3 430.6,116.3 431.2,116.3 431.8,116.3 432.4,116.3 433.0,116.3 433.6,116.3 434.2,116.3 434.8,116.3 435.4,116.3 436.0,116.3 436.6,116.3 437.2,116.2 437.8,116.2 438.4,116.2 439.0,116.2 439.6,116.2 440.2,116.2 440.8,116.2 441.4,116.2 442.0,116.2 442.6,116.2 443.2,116.2 443.8,116.2 444.4,116.2 445.0,116.2 445.6,116.2 446.2,116.2 446.8,116.2 447.4,116.1 448.0,115.8 448.6,115.6 449.2,115.4 449.8,114.4 450.4,113.4 451.0,114.6 451.6,112.3 452.2,113.4 452.8,112.4 453.4,111.0 454.0,112.0 454.6,109.6 455.2,109.9 455.8,107.8 456.4,107.0 457.0,107.1 457.6,107.5 458.2,104.3 458.8,103.7 459.4,102.3 460.0,100.4 460.6,96.2 461.2,92.6 461.8,91.5 462.4,85.5 463.0,85.0 463.6,79.0 464.2,74.5 464.8,70.3 465.4,66.8 466.0,64.7 466.6,59.7 467.2,58.0 467.8,55.2 468.4,50.2 469.0,46.6 469.6,40.9 470.2,38.3 470.8,37.0 471.4,36.8 472.0,35.0 472.6,35.2 473.2,36.7 473.8,36.0 474.4,35.1 475.0,37.2 475.6,39.3 476.2,40.1 476.8,43.8 477.4,47.8 478.0,53.1 478.6,56.7 479.2,59.0 479.8,64.8 480.4,65.6 481.0,70.5 481.6,76.0 482.2,78.4 482.8,83.9 483.4,86.8 484.0,92.4 484.6,95.5 485.2,97.7 485.8,101.4 486.4,102.4 487.0,105.8 487.6,107.2 488.2,108.7 488.8,110.0 489.4,112.8 490.0,114.1 490.6,113.1 491.2,114.3 491.8,112.9 492.4,115.5 493.0,115.4 493.6,116.0 494.2,116.0 494.8,116.0 495.4,116.0 496.0,116.0 496.6,116.0 497.2,116.0 497.8,116.0 498.4,116.0 499.0,116.0 499.6,116.0 500.2,116.0 500.8,116.0 501.4,116.1 502.0,116.1 502.6,116.1 503.2,116.1 503.8,116.1 504.4,116.1 505.0,116.1 505.6,116.1 506.2,116.1 506.8,116.1 507.4,116.1 508.0,116.1 508.6,116.1 509.2,116.1 509.8,116.1 510.4,116.1 511.0,116.1 511.6,116.1 512.2,116.1 512.8,116.1 513.4,116.1 514.0,116.1 514.6,116.1 515.2,116.1 515.8,116.2 516.4,116.2 517.0,116.2 517.6,116.2 518.2,116.2 518.8,116.2 519.4,116.2 520.0,116.2 520.6,116.2 521.2,116.2 521.8,116.2 522.4,116.2 523.0,116.2 523.6,116.2 524.2,116.2 524.8,116.2 525.4,116.2 526.0,116.2 526.6,116.2 527.2,116.2 527.8,116.2 528.4,116.2 529.0,116.2 529.6,116.2 530.2,116.3 530.8,116.3 531.4,116.3 532.0,116.3 532.6,116.3 533.2,116.3 533.8,116.3 534.4,116.3 535.0,116.3 535.6,116.3 536.2,116.3 536.8,116.3" fill="none" stroke="#111" stroke-width="0.9"/>
<polyline points="427.0,116.3 427.6,116.3 428.2,116.3 428.8,116.3 429.4,116.3 430.0,116.3 430.6,116.3 431.2,116.3 431.8,116.3 432.4,116.3 433.0,116.3 433.6,116.3 434.2,116.3 434.8,116.3 435.4,116.3 436.0,116.3 436.6,116.3 437.2,116.3 437.8,116.3 438.4,116.3 439.0,116.3 439.6,116.3 440.2,116.3 440.8,116.3 441.4,116.3 442.0,116.3 442.6,116.2 443.2,116.2 443.8,116.2 444.4,116.2 445.0,116.2 445.6,116.2 446.2,116.2 446.8,116.2 447.4,116.2 448.0,116.2 448.6,116.2 449.2,116.2 449.8,116.2 450.4,116.2 451.0,116.2 451.6,116.2 452.2,116.2 452.8,116.2 453.4,116.2 454.0,116.2 454.6,116.2 455.2,116.2 455.8,116.2 456.4,116.2 457.0,116.2 457.6,116.2 458.2,116.2 458.8,116.0 459.4,115.9 460.0,115.6 460.6,115.2 461.2,115.4 461.8,113.9 462.4,111.3 463.0,110.7 463.6,110.7 464.2,107.7 464.8,108.2 465.4,104.3 466.0,101.1 466.6,98.0 467.2,97.3 467.8,92.3 468.4,89.7 469.0,87.0 469.6,84.9 470.2,78.8 470.8,76.4 471.4,73.2 472.0,70.7 472.6,66.9 473.2,64.0 473.8,59.4 474.4,57.0 475.0,54.1 475.6,53.0 476.2,49.8 476.8,43.4 477.4,39.7 478.0,36.6 478.6,33.6 479.2,31.4 479.8,28.9 480.4,25.4 481.0,24.7 481.6,28.7 482.2,31.3 482.8,34.3 483.4,36.4 484.0,36.5 484.6,36.8 485.2,39.8 485.8,42.9 486.4,43.9 487.0,50.8 487.6,55.8 488.2,61.4 488.8,66.5 489.4,70.2 490.0,75.3 490.6,79.3 491.2,84.6 491.8,86.3 492.4,89.9 493.0,93.9 493.6,97.3 494.2,100.3 494.8,101.7 495.4,103.9 496.0,106.8 496.6,109.0 497.2,110.5 497.8,110.0 498.4,113.3 499.0,113.1 499.6,112.2 500.2,113.2 500.8,114.1 501.4,114.8 502.0,115.4 502.6,115.5 503.2,115.6 503.8,115.8 504.4,115.9 505.0,116.0 505.6,116.1 506.2,116.2 506.8,116.2 507.4,116.2 508.0,116.2 508.6,116.2 509.2,116.2 509.8,116.2 510.4,116.2 511.0,116.2 511.6,116.2 512.2,116.2 512.8,116.2 513.4,116.2 514.0,116.2 514.6,116.2 515.2,116.2 515.8,116.2 516.4,116.2 517.0,116.2 517.6,116.2 518.2,116.2 518.8,116.2 519.4,116.2 520.0,116.2 520.6,116.2 521.2,116.2 521.8,116.3 522.4,116.3 523.0,116.3 523.6,116.3 524.2,116.3 524.8,116.3 525.4,116.3 526.0,116.3 526.6,116.3 527.2,116.3 527.8,116.3 528.4,116.3 529.0,116.3 529.6,116.3 530.2,116.3 530.8,116.3 531.4,116.3 532.0,116.3 532.6,116.3 533.2,116.3 533.8,116.3 534.4,116.3 535.0,116.3 535.6,116.3 536.2,116.3 536.8,116.3" fill="none" stroke="#e8202a" stroke-width="0.9"/>
<polyline points="567.0,116.3 567.6,116.3 568.2,116.3 568.8,116.3 569.4,116.3 570.0,116.3 570.6,116.3 571.2,116.3 571.8,116.3 572.4,116.3 573.0,116.3 573.6,116.3 574.2,116.3 574.8,116.3 575.4,116.2 576.0,116.2 576.6,116.2 577.2,116.2 577.8,116.2 578.4,116.2 579.0,116.2 579.6,116.2 580.2,116.2 580.8,116.2 581.4,116.2 582.0,116.2 582.6,116.2 583.2,116.2 583.8,116.1 584.4,116.0 585.0,113.7 585.6,113.7 586.2,111.9 586.8,107.9 587.4,105.7 588.0,102.2 588.6,99.0 589.2,96.6 589.8,93.1 590.4,91.7 591.0,85.7 591.6,81.2 592.2,80.2 592.8,74.8 593.4,69.1 594.0,65.7 594.6,59.3 595.2,56.4 595.8,53.4 596.4,48.7 597.0,55.0 597.6,60.1 598.2,63.8 598.8,61.0 599.4,67.3 600.0,72.1 600.6,78.3 601.2,81.0 601.8,84.8 602.4,90.6 603.0,94.7 603.6,97.8 604.2,100.9 604.8,103.9 605.4,106.6 606.0,107.6 606.6,111.0 607.2,113.0 607.8,112.8 608.4,113.7 609.0,116.0 609.6,116.0 610.2,116.0 610.8,116.0 611.4,116.0 612.0,116.0 612.6,116.0 613.2,116.0 613.8,116.0 614.4,116.0 615.0,116.0 615.6,116.0 616.2,116.0 616.8,116.0 617.4,116.0 618.0,116.0 618.6,116.0 619.2,116.0 619.8,116.0 620.4,116.0 621.0,116.1 621.6,116.1 622.2,116.1 622.8,116.1 623.4,116.1 624.0,116.1 624.6,116.1 625.2,116.1 625.8,116.1 626.4,116.1 627.0,116.1 627.6,116.1 628.2,116.1 628.8,116.1 629.4,116.1 630.0,116.1 630.6,116.1 631.2,116.1 631.8,116.1 632.4,116.1 633.0,116.1 633.6,116.1 634.2,116.1 634.8,116.1 635.4,116.1 636.0,116.1 636.6,116.1 637.2,116.1 637.8,116.1 638.4,116.1 639.0,116.1 639.6,116.1 640.2,116.1 640.8,116.1 641.4,116.1 642.0,116.1 642.6,116.1 643.2,116.1 643.8,116.2 644.4,116.2 645.0,116.2 645.6,116.2 646.2,116.2 646.8,116.2 647.4,116.2 648.0,116.2 648.6,116.2 649.2,116.2 649.8,116.2 650.4,116.2 651.0,116.2 651.6,116.2 652.2,116.2 652.8,116.2 653.4,116.2 654.0,116.2 654.6,116.2 655.2,116.2 655.8,116.2 656.4,116.2 657.0,116.2 657.6,116.2 658.2,116.2 658.8,116.2 659.4,116.2 660.0,116.2 660.6,116.2 661.2,116.2 661.8,116.2 662.4,116.2 663.0,116.2 663.6,116.2 664.2,116.2 664.8,116.2 665.4,116.2 666.0,116.2 666.6,116.3 667.2,116.3 667.8,116.3 668.4,116.3 669.0,116.3 669.6,116.3 670.2,116.3 670.8,116.3 671.4,116.3 672.0,116.3 672.6,116.3 673.2,116.3 673.8,116.3 674.4,116.3 675.0,116.3 675.6,116.3 676.2,116.3 676.8,116.3 677.4,116.3" fill="none" stroke="#111" stroke-width="0.9"/>
<polyline points="567.0,116.3 567.6,116.3 568.2,116.3 568.8,116.3 569.4,116.3 570.0,116.3 570.6,116.3 571.2,116.3 571.8,116.3 572.4,116.3 573.0,116.3 573.6,116.3 574.2,116.3 574.8,116.3 575.4,116.3 576.0,116.3 576.6,116.3 577.2,116.3 577.8,116.2 578.4,116.2 579.0,116.2 579.6,116.2 580.2,116.2 580.8,116.2 581.4,116.2 582.0,116.2 582.6,116.2 583.2,116.2 583.8,116.2 584.4,116.2 585.0,116.2 585.6,116.2 586.2,116.2 586.8,116.2 587.4,116.2 588.0,116.2 588.6,116.1 589.2,116.1 589.8,115.7 590.4,113.3 591.0,111.6 591.6,111.3 592.2,110.5 592.8,107.2 593.4,105.5 594.0,101.7 594.6,97.6 595.2,91.7 595.8,87.2 596.4,83.2 597.0,79.1 597.6,75.1 598.2,72.7 598.8,70.4 599.4,67.0 600.0,62.6 600.6,60.3 601.2,59.6 601.8,56.1 602.4,58.5 603.0,63.0 603.6,60.0 604.2,57.2 604.8,54.8 605.4,57.6 606.0,63.4 606.6,66.6 607.2,74.4 607.8,81.2 608.4,84.0 609.0,87.9 609.6,93.5 610.2,96.7 610.8,98.4 611.4,101.2 612.0,104.2 612.6,109.5 613.2,111.4 613.8,110.4 614.4,113.6 615.0,115.1 615.6,115.1 616.2,115.7 616.8,116.0 617.4,116.0 618.0,116.0 618.6,116.0 619.2,116.0 619.8,116.0 620.4,116.0 621.0,116.0 621.6,116.0 622.2,116.0 622.8,116.0 623.4,116.0 624.0,116.0 624.6,116.0 625.2,116.0 625.8,116.0 626.4,116.0 627.0,116.1 627.6,116.1 628.2,116.1 628.8,116.1 629.4,116.1 630.0,116.1 630.6,116.1 631.2,116.1 631.8,116.1 632.4,116.1 633.0,116.1 633.6,116.1 634.2,116.1 634.8,116.1 635.4,116.1 636.0,116.1 636.6,116.1 637.2,116.1 637.8,116.1 638.4,116.1 639.0,116.1 639.6,116.1 640.2,116.1 640.8,116.1 641.4,116.1 642.0,116.1 642.6,116.1 643.2,116.1 643.8,116.1 644.4,116.1 645.0,116.1 645.6,116.1 646.2,116.1 646.8,116.1 647.4,116.2 648.0,116.2 648.6,116.2 649.2,116.2 649.8,116.2 650.4,116.2 651.0,116.2 651.6,116.2 652.2,116.2 652.8,116.2 653.4,116.2 654.0,116.2 654.6,116.2 655.2,116.2 655.8,116.2 656.4,116.2 657.0,116.2 657.6,116.2 658.2,116.2 658.8,116.2 659.4,116.2 660.0,116.2 660.6,116.2 661.2,116.2 661.8,116.2 662.4,116.2 663.0,116.2 663.6,116.2 664.2,116.2 664.8,116.2 665.4,116.2 666.0,116.2 666.6,116.2 667.2,116.2 667.8,116.3 668.4,116.3 669.0,116.3 669.6,116.3 670.2,116.3 670.8,116.3 671.4,116.3 672.0,116.3 672.6,116.3 673.2,116.3 673.8,116.3 674.4,116.3 675.0,116.3 675.6,116.3 676.2,116.3 676.8,116.3 677.4,116.3" fill="none" stroke="#e8202a" stroke-width="0.9"/>
<line x1="515.40" y1="34.80" x2="530.80" y2="34.80" stroke="#000" stroke-width="1.8" />
<line x1="515.40" y1="47.80" x2="530.80" y2="47.80" stroke="#e8202a" stroke-width="1.8" />
<line x1="577.00" y1="34.80" x2="591.80" y2="34.80" stroke="#000" stroke-width="1.8" />
<line x1="577.00" y1="47.80" x2="591.80" y2="47.80" stroke="#e8202a" stroke-width="1.8" />
<text transform="translate(539.60,39.50) scale(0.93,1)" font-size="14.2" text-anchor="start" font-weight="normal" fill="#111" >0 μM</text>
<text transform="translate(539.00,52.50) scale(0.93,1)" font-size="14.2" text-anchor="start" font-weight="normal" fill="#111" >20 μM</text>
<line x1="452.40" y1="151.50" x2="452.40" y2="231.70" stroke="#222" stroke-width="1.1" />
<line x1="449.00" y1="231.60" x2="452.40" y2="231.60" stroke="#222" stroke-width="1.0" />
<text transform="translate(442.80,235.70) scale(0.95,1)" font-size="12.2" text-anchor="end" font-weight="normal" fill="#111" >0</text>
<line x1="449.00" y1="211.80" x2="452.40" y2="211.80" stroke="#222" stroke-width="1.0" />
<text transform="translate(442.80,215.90) scale(0.95,1)" font-size="12.2" text-anchor="end" font-weight="normal" fill="#111" >50</text>
<line x1="449.00" y1="192.00" x2="452.40" y2="192.00" stroke="#222" stroke-width="1.0" />
<text transform="translate(442.80,196.10) scale(0.95,1)" font-size="12.2" text-anchor="end" font-weight="normal" fill="#111" >100</text>
<line x1="449.00" y1="172.20" x2="452.40" y2="172.20" stroke="#222" stroke-width="1.0" />
<text transform="translate(442.80,176.30) scale(0.95,1)" font-size="12.2" text-anchor="end" font-weight="normal" fill="#111" >150</text>
<line x1="449.00" y1="152.40" x2="452.40" y2="152.40" stroke="#222" stroke-width="1.0" />
<text transform="translate(442.80,156.50) scale(0.95,1)" font-size="12.2" text-anchor="end" font-weight="normal" fill="#111" >200</text>
<line x1="452.40" y1="231.60" x2="673.50" y2="231.60" stroke="#555" stroke-width="1.0" />
<line x1="452.40" y1="231.60" x2="452.40" y2="234.80" stroke="#555" stroke-width="1.0" />
<line x1="526.00" y1="231.60" x2="526.00" y2="234.80" stroke="#555" stroke-width="1.0" />
<line x1="599.70" y1="231.60" x2="599.70" y2="234.80" stroke="#555" stroke-width="1.0" />
<line x1="673.00" y1="231.60" x2="673.00" y2="234.80" stroke="#555" stroke-width="1.0" />
<text x="0" y="0" font-size="14.2" text-anchor="middle" fill="#111" transform="translate(420.50,184.00) rotate(-90) scale(0.93,1)">RFU</text>
<rect x="464.40" y="192.20" width="16.60" height="39.40" fill="#000" />
<rect x="497.60" y="160.00" width="16.40" height="71.60" fill="#7f7f7f" />
<line x1="506.00" y1="156.40" x2="506.00" y2="163.60" stroke="#000" stroke-width="1.0" />
<line x1="502.50" y1="156.40" x2="509.50" y2="156.40" stroke="#000" stroke-width="1.0" />
<line x1="502.50" y1="163.60" x2="509.50" y2="163.60" stroke="#000" stroke-width="1.0" />
<text transform="translate(505.80,158.04) scale(1,1)" font-size="17.5" text-anchor="middle" font-weight="normal" fill="#222" >**</text>
<rect x="612.20" y="191.90" width="16.60" height="39.70" fill="#000" />
<rect x="645.00" y="164.80" width="16.20" height="66.80" fill="#7f7f7f" />
<line x1="653.10" y1="161.60" x2="653.10" y2="167.70" stroke="#000" stroke-width="1.0" />
<line x1="649.60" y1="161.60" x2="656.60" y2="161.60" stroke="#000" stroke-width="1.0" />
<line x1="649.60" y1="167.70" x2="656.60" y2="167.70" stroke="#000" stroke-width="1.0" />
<text transform="translate(652.60,163.44) scale(1,1)" font-size="17.5" text-anchor="middle" font-weight="normal" fill="#222" >**</text>
<rect x="546.00" y="162.70" width="6.60" height="6.50" fill="#000" />
<rect x="546.00" y="182.60" width="6.60" height="6.50" fill="#7f7f7f" />
<text transform="translate(561.20,170.20) scale(0.93,1)" font-size="14.2" text-anchor="start" font-weight="normal" fill="#111" >0 μM</text>
<text transform="translate(559.70,190.60) scale(0.93,1)" font-size="14.2" text-anchor="start" font-weight="normal" fill="#111" >20 μM</text>
<text transform="translate(459.00,253.00) scale(0.93,1)" font-size="14.2" text-anchor="start" font-weight="normal" fill="#111" >MDA-MB-231</text>
<text transform="translate(616.50,253.00) scale(0.93,1)" font-size="14.2" text-anchor="start" font-weight="normal" fill="#111" >MCF-7</text>
<defs>
<filter id="b00" x="0" y="0" width="1" height="1" color-interpolation-filters="sRGB">
<feTurbulence type="fractalNoise" baseFrequency="0.26" numOctaves="2" seed="5" result="n"/>
<feColorMatrix in="n" type="matrix" values="1 0 0 0 0  1 0 0 0 0  1 0 0 0 0  0 0 0 0 1" result="g"/>
<feComposite in="g" in2="SourceGraphic" operator="arithmetic" k1="0" k2="1.0" k3="0.5" k4="-0.27" result="m"/>
<feComponentTransfer in="m" result="c">
<feFuncR type="table" tableValues="0.290 0.290 0.290 0.290 0.290 0.290 0.290 0.290 0.290 0.290 0.290 0.290 0.290 0.290 0.290 0.290 0.290 0.290 0.290 0.301 0.357 0.413 0.468 0.524 0.580 0.580 0.580 0.580 0.580 0.580 0.580 0.580 0.580 0.580 0.580 0.580 0.580 0.580 0.580 0.580 0.580"/>
<feFuncG type="table" tableValues="0.130 0.130 0.130 0.130 0.130 0.130 0.130 0.130 0.130 0.130 0.130 0.130 0.130 0.130 0.130 0.130 0.130 0.130 0.130 0.147 0.232 0.316 0.401 0.485 0.570 0.570 0.570 0.570 0.570 0.570 0.570 0.570 0.570 0.570 0.570 0.570 0.570 0.570 0.570 0.570 0.570"/>
<feFuncB type="table" tableValues="0.820 0.820 0.820 0.820 0.820 0.820 0.820 0.820 0.820 0.820 0.820 0.820 0.820 0.820 0.820 0.820 0.820 0.820 0.820 0.825 0.848 0.871 0.894 0.917 0.940 0.940 0.940 0.940 0.940 0.940 0.940 0.940 0.940 0.940 0.940 0.940 0.940 0.940 0.940 0.940 0.940"/>
<feFuncA type="table" tableValues="1 1"/>
</feComponentTransfer>
<feGaussianBlur in="c" stdDeviation="0.7" result="cb"/>
<feComposite in="cb" in2="SourceGraphic" operator="in"/>
</filter>
<filter id="b01" x="0" y="0" width="1" height="1" color-interpolation-filters="sRGB">
<feTurbulence type="fractalNoise" baseFrequency="0.34" numOctaves="2" seed="9" result="n"/>
<feColorMatrix in="n" type="matrix" values="1 0 0 0 0  1 0 0 0 0  1 0 0 0 0  0 0 0 0 1" result="g"/>
<feComposite in="g" in2="SourceGraphic" operator="arithmetic" k1="0" k2="1.0" k3="0.35" k4="-0.19" result="m"/>
<feComponentTransfer in="m" result="c">
<feFuncR type="table" tableValues="0.330 0.330 0.330 0.330 0.330 0.330 0.330 0.330 0.330 0.330 0.330 0.330 0.330 0.330 0.330 0.362 0.416 0.469 0.523 0.576 0.630 0.630 0.630 0.630 0.630 0.630 0.630 0.630 0.630 0.630 0.630 0.630 0.630 0.630 0.630 0.630 0.630 0.630 0.630 0.630 0.630"/>
<feFuncG type="table" tableValues="0.220 0.220 0.220 0.220 0.220 0.220 0.220 0.220 0.220 0.220 0.220 0.220 0.220 0.220 0.220 0.266 0.343 0.420 0.496 0.573 0.650 0.650 0.650 0.650 0.650 0.650 0.650 0.650 0.650 0.650 0.650 0.650 0.650 0.650 0.650 0.650 0.650 0.650 0.650 0.650 0.650"/>
<feFuncB type="table" tableValues="0.800 0.800 0.800 0.800 0.800 0.800 0.800 0.800 0.800 0.800 0.800 0.800 0.800 0.800 0.800 0.812 0.831 0.851 0.871 0.890 0.910 0.910 0.910 0.910 0.910 0.910 0.910 0.910 0.910 0.910 0.910 0.910 0.910 0.910 0.910 0.910 0.910 0.910 0.910 0.910 0.910"/>
<feFuncA type="table" tableValues="1 1"/>
</feComponentTransfer>
<feGaussianBlur in="c" stdDeviation="0.7" result="cb"/>
<feComposite in="cb" in2="SourceGraphic" operator="in"/>
</filter>
<radialGradient id="rg00" cx="0.55" cy="0.55" r="0.5"><stop offset="0" stop-color="#b8b8b8"/><stop offset="0.8" stop-color="#909090"/><stop offset="1" stop-color="#606060"/></radialGradient>
<radialGradient id="rg01" cx="0.5" cy="0.5" r="0.5"><stop offset="0" stop-color="#c0c0c0"/><stop offset="0.6" stop-color="#b0b0b0"/><stop offset="1" stop-color="#303030"/></radialGradient>
<linearGradient id="streak" x1="0" y1="0" x2="1" y2="0.3"><stop offset="0" stop-color="#b7aee0" stop-opacity="0"/><stop offset="0.35" stop-color="#b9b0e2" stop-opacity="0.7"/><stop offset="0.55" stop-color="#b9b0e2" stop-opacity="0"/><stop offset="0.7" stop-color="#b5aedf" stop-opacity="0.5"/><stop offset="1" stop-color="#b5aedf" stop-opacity="0"/></linearGradient>
<clipPath id="cp00"><ellipse cx="457.20" cy="315.60" rx="42.20" ry="44.50"/></clipPath>
<clipPath id="cp01"><ellipse cx="548.10" cy="315.60" rx="42.00" ry="44.50"/></clipPath>
<clipPath id="cp02"><ellipse cx="638.95" cy="315.60" rx="41.85" ry="44.50"/></clipPath>
<clipPath id="cp10"><ellipse cx="457.20" cy="412.55" rx="42.20" ry="44.65"/></clipPath>
<clipPath id="cp11"><ellipse cx="548.10" cy="412.55" rx="42.00" ry="44.65"/></clipPath>
<clipPath id="cp12"><ellipse cx="638.95" cy="412.55" rx="41.85" ry="44.65"/></clipPath>
</defs>
<rect x="414.40" y="270.70" width="85.60" height="89.80" fill="#fff" stroke="#333" stroke-width="1"/>
<ellipse cx="457.20" cy="315.60" rx="42.20" ry="44.50" fill="url(#rg00)" filter="url(#b00)"/>
<ellipse cx="457.20" cy="315.60" rx="41.90" ry="44.20" fill="none" stroke="#3a1ec8" stroke-width="0.8" opacity="0.8"/>
<rect x="505.50" y="270.70" width="85.20" height="89.80" fill="#fff" stroke="#333" stroke-width="1"/>
<g clip-path="url(#cp01)"><ellipse cx="548.10" cy="315.60" rx="42.00" ry="44.50" fill="#a0a5e6"/><path d="M529.7 342.2h0M534.0 342.6h0M512.2 332.4h0M546.5 344.4h0M510.9 335.6h0M578.6 319.1h0M572.8 336.2h0M572.3 338.9h0M555.9 358.2h0M580.6 319.8h0M529.5 293.0h0M546.2 331.5h0M523.5 285.3h0M566.5 292.8h0M563.1 291.6h0M549.1 330.3h0M550.1 330.6h0M540.7 346.1h0M540.5 346.3h0M559.7 289.0h0M560.5 287.7h0M544.8 325.2h0M547.5 333.6h0M537.4 294.9h0M563.5 340.4h0M529.3 315.3h0M539.7 274.8h0M537.6 278.9h0M569.2 346.2h0M572.1 347.0h0M574.0 293.5h0M574.3 292.7h0M561.0 277.5h0M542.1 296.7h0M578.5 340.5h0M535.7 287.4h0M536.5 284.8h0M517.4 315.0h0M519.8 316.0h0M545.5 271.7h0M537.5 347.2h0M531.2 284.8h0M521.0 321.6h0M552.0 347.9h0M573.7 345.4h0M575.6 343.8h0M552.7 357.5h0M520.9 318.3h0M532.6 352.9h0M526.7 301.4h0M545.1 347.3h0M542.3 350.1h0M579.6 287.0h0M514.2 304.1h0M548.7 279.9h0M568.2 337.5h0M567.4 340.0h0M575.7 290.5h0M574.0 291.5h0M529.9 337.8h0M569.8 337.2h0M570.9 281.8h0M573.4 282.3h0M572.6 296.9h0M583.5 297.4h0M577.7 298.4h0M525.4 301.8h0M584.1 306.7h0M535.7 289.9h0M547.1 324.9h0M560.1 353.2h0M559.0 353.2h0M536.7 357.3h0M580.7 299.2h0M523.7 350.6h0M552.3 308.1h0M539.2 337.0h0M520.9 283.4h0M521.1 285.2h0M507.7 317.4h0M564.4 280.5h0M524.1 345.6h0M546.9 326.5h0M547.0 328.4h0M544.4 328.5h0M547.6 274.6h0M539.5 347.8h0M539.4 346.8h0M550.0 336.2h0M569.7 279.8h0M563.5 356.4h0M567.5 289.6h0M573.6 336.8h0M573.9 338.3h0M536.4 313.5h0M536.0 346.6h0M573.4 315.0h0M573.3 314.0h0M571.2 295.5h0M521.6 281.7h0M532.1 315.1h0M528.5 314.6h0M566.4 311.5h0M517.7 343.0h0M518.1 342.2h0M553.4 286.0h0M567.2 336.7h0M518.6 345.7h0M521.9 341.6h0M587.7 300.6h0M570.0 350.2h0M544.7 323.3h0M531.3 276.8h0M515.2 308.8h0M518.6 340.1h0M520.7 340.0h0M524.6 345.5h0M584.4 327.6h0M518.7 297.0h0M567.6 343.8h0M564.2 343.5h0M546.7 330.3h0M553.4 288.0h0M555.7 288.1h0M577.6 325.0h0M562.9 309.5h0M523.8 285.7h0M585.8 328.0h0M568.3 282.0h0M542.9 293.3h0M540.3 294.4h0M569.4 317.8h0M526.1 288.3h0M515.1 330.2h0M514.7 331.2h0M552.6 321.5h0M551.8 319.3h0M536.3 279.5h0M563.8 278.9h0M566.7 280.2h0M585.9 324.4h0M583.9 322.2h0M535.0 299.6h0M554.7 339.7h0M540.9 352.5h0M513.5 328.9h0M531.7 337.8h0M532.2 337.4h0M533.1 294.7h0M535.9 307.3h0M557.3 302.5h0M531.4 313.1h0M533.0 317.2h0M558.1 279.0h0M564.6 328.5h0M557.0 279.8h0M555.8 278.4h0M568.6 342.5h0M568.4 339.0h0M575.0 288.8h0M514.8 333.8h0M523.0 329.5h0M520.9 330.8h0M552.7 288.3h0M553.2 288.2h0M542.9 282.7h0M542.0 323.9h0M541.7 324.1h0M533.0 328.5h0M559.7 287.7h0M544.4 343.2h0M583.8 316.2h0M583.8 317.6h0M520.8 319.3h0M520.0 318.1h0M584.7 294.7h0M544.7 311.6h0M546.9 310.9h0M521.5 289.1h0M545.7 337.1h0M562.0 292.6h0M562.6 292.5h0M526.3 288.7h0M529.0 337.4h0M523.0 327.1h0M560.4 292.5h0M581.0 311.2h0M538.3 348.1h0M538.4 347.6h0M541.3 274.3h0M521.7 292.8h0M521.4 290.6h0M556.2 350.2h0M527.1 307.7h0M512.3 296.2h0M513.8 296.3h0M521.4 320.0h0M520.8 319.1h0M550.8 319.4h0M524.9 285.3h0M569.2 351.8h0M582.9 302.8h0M525.6 339.6h0M564.0 277.2h0M565.5 274.7h0M533.8 277.6h0M535.4 291.0h0M556.4 283.9h0M570.9 294.4h0M570.0 293.8h0M527.6 341.0h0M590.2 329.3h0M535.9 343.2h0M567.6 292.5h0M567.4 295.2h0M547.9 324.3h0M548.2 324.9h0M510.6 327.7h0M530.9 333.1h0M579.8 292.6h0M522.9 280.4h0M580.2 302.0h0M566.9 331.2h0M558.1 334.5h0M544.3 296.4h0M581.3 340.1h0M580.1 338.9h0M527.7 349.7h0M545.3 344.0h0M544.9 347.0h0M579.4 344.5h0M555.1 345.4h0M559.8 309.3h0M585.7 319.7h0M554.4 348.6h0M555.6 351.1h0M526.1 316.3h0M569.4 280.9h0M509.3 321.7h0M536.6 328.9h0M564.0 277.8h0M563.6 276.2h0M576.4 306.7h0M589.1 321.3h0M548.0 355.8h0M521.2 300.7h0M523.7 302.7h0M544.4 306.4h0M545.4 330.9h0M515.2 342.9h0M561.5 275.5h0M507.2 312.5h0M532.6 296.4h0M544.8 314.9h0M577.6 287.8h0M538.6 294.6h0M548.0 347.7h0M536.6 349.3h0M526.4 313.6h0M558.9 326.9h0M565.0 285.4h0M541.1 286.3h0M538.9 335.8h0M544.2 313.1h0M550.4 298.1h0M551.6 296.8h0M572.3 326.1h0M572.2 325.4h0M554.5 358.7h0M527.4 344.9h0M512.2 311.3h0M512.3 309.5h0M531.8 351.1h0M530.1 351.1h0M582.4 338.0h0M584.1 335.5h0M566.5 310.4h0M566.6 310.3h0M580.7 324.1h0M528.8 332.6h0M534.5 286.7h0M533.4 287.9h0M576.7 308.7h0M572.9 305.0h0M565.2 276.0h0M541.0 347.4h0M535.9 350.3h0M518.7 296.8h0M532.4 349.4h0M579.5 341.8h0M511.5 293.1h0M511.6 320.8h0M522.6 309.8h0M559.5 292.2h0M545.4 357.7h0M544.6 358.6h0M531.9 347.7h0M525.2 315.5h0M581.1 323.7h0M529.1 284.3h0M538.0 300.5h0M546.1 306.9h0M546.7 307.8h0M539.6 341.5h0M538.8 343.7h0M519.3 330.3h0M551.8 292.1h0" stroke="#4c36c8" stroke-width="1.0" stroke-linecap="round" fill="none" opacity="1"/><path d="M512.5 333.6h0M547.8 343.6h0M512.8 336.0h0M575.8 319.1h0M525.6 306.8h0M523.0 305.8h0M571.9 300.1h0M570.0 300.1h0M538.2 287.6h0M534.4 288.1h0M556.4 301.7h0M555.9 301.9h0M556.5 274.4h0M556.0 272.1h0M551.1 358.6h0M556.5 300.1h0M555.0 299.9h0M579.1 319.6h0M526.7 293.2h0M561.5 313.1h0M564.2 313.7h0M548.7 329.9h0M516.4 299.6h0M518.6 300.5h0M523.1 285.8h0M530.8 309.5h0M531.4 309.2h0M527.0 349.5h0M526.0 348.3h0M542.5 324.1h0M549.3 330.9h0M536.9 296.6h0M567.7 339.4h0M538.9 340.3h0M537.6 341.6h0M530.5 315.3h0M570.5 330.6h0M571.9 330.8h0M551.6 349.5h0M551.6 347.1h0M562.9 276.0h0M541.1 295.6h0M576.9 338.9h0M547.9 327.7h0M547.8 326.7h0M544.1 273.0h0M533.2 280.0h0M532.8 279.5h0M538.7 347.7h0M531.7 282.9h0M520.1 322.3h0M588.4 309.7h0M585.5 310.5h0M575.7 309.7h0M576.7 313.4h0M555.9 348.5h0M552.9 357.5h0M519.9 317.2h0M532.6 349.9h0M577.6 344.9h0M578.6 344.2h0M526.7 301.9h0M578.9 339.8h0M580.0 339.4h0M576.4 288.9h0M514.0 302.4h0M552.2 281.0h0M538.3 347.1h0M538.7 348.0h0M558.6 356.5h0M559.2 359.9h0M576.3 314.9h0M576.5 315.6h0M541.2 326.9h0M541.1 328.9h0M530.6 333.7h0M569.1 338.0h0M545.3 337.6h0M541.6 338.9h0M571.0 296.9h0M582.3 297.7h0M531.2 276.3h0M529.6 274.1h0M518.0 324.4h0M518.3 323.2h0M578.5 299.2h0M525.1 287.5h0M526.9 288.3h0M525.2 301.7h0M523.8 282.6h0M523.9 283.8h0M582.3 306.4h0M533.9 286.8h0M549.2 323.7h0M537.1 358.3h0M564.1 337.8h0M564.9 337.7h0M557.9 319.1h0M560.5 317.1h0M543.6 271.4h0M543.1 272.3h0M581.5 300.5h0M531.1 333.8h0M532.4 333.9h0M524.7 350.3h0M524.5 347.2h0M524.0 347.4h0M549.0 306.7h0M539.3 333.4h0M587.6 303.9h0M587.6 305.6h0M508.5 314.9h0M563.7 281.7h0M525.0 348.2h0M548.3 326.9h0M528.9 322.6h0M527.1 321.0h0M549.8 276.8h0M548.4 337.6h0M524.2 279.2h0M521.3 279.7h0M569.5 280.5h0M564.9 355.7h0M566.9 293.4h0M560.1 331.2h0M558.2 329.8h0M549.4 320.1h0M548.9 319.2h0M538.0 312.3h0M540.0 305.3h0M539.4 303.7h0M533.3 348.2h0M588.0 317.2h0M588.7 315.7h0M569.2 295.3h0M522.7 282.8h0M570.4 310.0h0M552.5 295.2h0M554.2 292.7h0M556.1 334.6h0M554.6 334.4h0M572.1 338.8h0M571.2 337.8h0M520.0 332.0h0M519.1 330.5h0M552.7 286.1h0M565.4 337.4h0M580.5 324.6h0M580.2 321.8h0M543.8 275.7h0M545.7 275.5h0M586.8 304.1h0M569.7 351.0h0M507.8 315.0h0M507.7 316.9h0M546.7 326.5h0M531.1 277.5h0M516.6 307.3h0M513.5 295.5h0M515.8 295.4h0M525.8 347.9h0M581.4 324.1h0M519.2 297.0h0M550.2 315.9h0M551.4 316.8h0M553.3 349.2h0M553.9 351.3h0M548.8 332.8h0M510.0 330.5h0M510.0 334.0h0M577.6 324.5h0M561.4 308.3h0M524.2 284.4h0M585.9 328.2h0M568.4 283.8h0M550.2 329.9h0M551.6 330.2h0M569.3 313.9h0M524.3 288.5h0M552.3 321.4h0M553.7 320.7h0M535.0 278.7h0M583.2 293.4h0M583.4 294.2h0M532.8 298.1h0M555.9 339.9h0M539.1 356.2h0M509.4 314.6h0M511.0 315.0h0M514.1 330.8h0M556.2 356.0h0M556.6 355.1h0M510.7 317.7h0M509.2 317.8h0M580.7 334.8h0M581.2 332.6h0M553.2 311.0h0M552.9 314.5h0M551.0 345.7h0M551.1 343.0h0M534.8 297.3h0M529.1 283.0h0M526.6 284.0h0M535.0 308.1h0M557.3 301.0h0M558.9 281.2h0M563.0 328.2h0M576.5 286.9h0M530.3 292.3h0M529.8 291.8h0M515.6 334.7h0M576.3 303.9h0M574.5 303.0h0M542.0 284.4h0M513.5 338.7h0M512.9 337.3h0M535.2 334.0h0M535.0 330.2h0M533.5 325.6h0M529.0 292.8h0M529.6 296.9h0M558.9 287.5h0M545.3 342.7h0M583.1 297.8h0M548.1 329.8h0M548.4 332.5h0M519.3 290.8h0M512.6 308.2h0M514.1 306.9h0M546.3 337.0h0M586.6 317.3h0M584.4 316.4h0M524.4 287.1h0M582.9 323.6h0M581.2 326.3h0M528.8 338.4h0M523.7 325.9h0M560.6 290.6h0M581.7 310.0h0M542.6 274.8h0M523.5 291.6h0M523.4 292.0h0M556.1 350.9h0M577.3 297.1h0M578.5 294.6h0M528.4 307.0h0M577.9 326.9h0M580.0 328.9h0M551.1 320.1h0M549.8 353.7h0M552.5 354.5h0M539.3 275.5h0M541.2 276.7h0M547.1 359.3h0M547.3 359.3h0M525.9 282.9h0M567.7 351.3h0M571.1 347.0h0M569.7 345.2h0M583.1 302.2h0M564.0 285.5h0M561.0 287.0h0M523.3 341.4h0M547.7 317.4h0M545.9 318.4h0M569.4 290.7h0M571.2 288.3h0M532.1 276.6h0M535.5 288.3h0M555.5 286.5h0M526.7 340.9h0M588.4 327.9h0M531.1 342.1h0M511.6 335.0h0M513.3 331.3h0M508.6 326.8h0M546.7 349.0h0M549.0 348.4h0M526.1 334.1h0M549.6 324.2h0M547.5 327.0h0M580.4 290.2h0M524.5 282.5h0M577.9 300.5h0M568.3 332.5h0M558.0 334.3h0M545.3 295.9h0M583.9 298.9h0M585.0 300.2h0M527.1 349.1h0M539.4 331.3h0M538.0 334.5h0M581.3 343.1h0M555.1 346.5h0M560.2 309.0h0M585.6 319.6h0M563.2 287.5h0M559.9 288.9h0M543.7 296.4h0M545.5 297.6h0M524.2 314.6h0M560.2 284.1h0M562.6 285.2h0M518.2 336.2h0M518.7 334.9h0M572.9 281.3h0M510.5 324.5h0M536.7 328.9h0M520.3 311.9h0M522.1 313.7h0M574.5 306.3h0M589.4 322.0h0M550.0 357.2h0M546.3 306.3h0M546.8 332.5h0M572.3 305.0h0M573.3 303.3h0M515.8 341.9h0M561.9 275.1h0M507.2 310.9h0M531.1 295.7h0M542.0 315.4h0M576.8 286.8h0M540.5 293.6h0M549.2 347.3h0M533.3 347.0h0M525.5 313.4h0M557.8 327.7h0M565.6 286.2h0M539.7 285.2h0M540.4 335.9h0M544.9 312.2h0M520.5 304.7h0M521.8 304.6h0M555.3 359.9h0M529.1 342.4h0M575.4 345.4h0M575.6 343.3h0M506.9 316.2h0M504.5 317.6h0M570.9 290.7h0M569.2 291.3h0M544.3 291.9h0M542.8 291.3h0M557.4 338.1h0M555.5 337.1h0M578.3 325.4h0M507.4 304.9h0M504.9 304.7h0M526.5 335.8h0M561.9 287.3h0M563.9 285.8h0M566.0 275.6h0M540.6 346.4h0M525.8 290.4h0M528.1 290.3h0M534.9 353.2h0M516.7 296.9h0M544.7 351.2h0M546.8 351.2h0M535.7 323.8h0M535.7 323.1h0M533.0 350.5h0M580.5 340.4h0M512.4 294.0h0M587.1 327.3h0M585.7 330.5h0M510.9 319.5h0M564.2 356.0h0M563.4 355.7h0M523.4 310.1h0M560.0 293.4h0M553.8 298.9h0M553.5 297.4h0M528.1 315.0h0M529.8 316.8h0M569.7 337.8h0M569.3 340.6h0M522.6 339.5h0M522.0 341.0h0M533.3 348.3h0M524.8 316.6h0M573.1 342.4h0M570.2 344.4h0M554.3 274.3h0M555.1 275.3h0M582.1 322.4h0M530.0 283.1h0M535.8 301.9h0M564.6 352.5h0M564.3 351.3h0M516.2 330.2h0M553.2 290.4h0" stroke="#4c36c8" stroke-width="2.0" stroke-linecap="round" fill="none" opacity="1"/><path d="M538.6 287.5h0M559.0 278.6h0M537.3 291.2h0M550.1 342.6h0M539.0 311.0h0M543.7 292.7h0M550.1 356.2h0M524.3 343.4h0M532.5 337.7h0M577.8 293.1h0M510.1 312.6h0M546.5 287.4h0M549.9 300.4h0M581.7 334.3h0M579.1 335.9h0M580.7 328.0h0M564.1 277.7h0M532.8 343.2h0M570.1 313.9h0M519.9 304.7h0M528.0 337.2h0M560.5 356.2h0M570.4 323.5h0M542.6 354.9h0M538.9 277.0h0M555.4 308.2h0M577.3 330.6h0M513.6 316.0h0M546.2 357.9h0M585.2 326.2h0M551.6 349.3h0M530.7 352.0h0M560.8 273.6h0M553.3 348.0h0M513.1 324.0h0M576.4 303.6h0M527.1 347.1h0M569.4 289.6h0M561.4 324.4h0M542.9 307.3h0M564.2 351.2h0M576.6 329.7h0M575.8 336.1h0M526.1 303.2h0M568.5 293.6h0M522.7 314.5h0M550.6 357.1h0M510.8 318.5h0M560.4 334.4h0M524.4 335.5h0M545.5 304.8h0M514.3 289.9h0M522.4 290.6h0" stroke="#5038c8" stroke-width="3.0" stroke-linecap="round" fill="none" opacity="1"/><path d="M544.0 319.6h0M522.6 284.5h0M515.0 334.0h0M526.0 337.8h0M524.3 298.9h0M562.5 291.4h0M569.6 296.8h0M560.6 276.6h0M521.6 333.7h0M509.1 327.7h0M572.6 349.4h0M578.3 290.1h0M512.8 303.0h0M539.3 300.2h0M580.8 338.8h0M517.4 316.4h0M532.5 327.0h0" stroke="#5038c8" stroke-width="2.0" stroke-linecap="round" fill="none" opacity="1"/></g>
<ellipse cx="548.10" cy="315.60" rx="41.70" ry="44.20" fill="none" stroke="#5a4ad0" stroke-width="0.8" opacity="0.8"/>
<rect x="596.50" y="270.70" width="84.90" height="89.80" fill="#fff" stroke="#333" stroke-width="1"/>
<g clip-path="url(#cp02)"><ellipse cx="638.95" cy="315.60" rx="41.85" ry="44.50" fill="#a7abe8"/><ellipse cx="638.95" cy="315.60" rx="41.85" ry="44.50" fill="url(#streak)"/><ellipse cx="640.95" cy="317.60" rx="9" ry="8" fill="#9b9fdc" opacity="0.35"/><path d="M622.3 276.2h0M651.5 293.4h0M658.2 281.7h0M633.6 316.0h0M649.3 289.0h0M615.6 322.4h0M615.6 348.1h0M635.7 328.3h0M630.5 287.4h0M675.6 326.0h0M633.4 358.8h0M645.3 357.0h0M659.6 298.3h0M653.1 353.3h0M638.2 315.5h0M638.8 342.0h0M602.2 302.2h0M610.1 345.6h0M600.5 330.6h0M621.3 285.6h0M674.8 329.8h0M666.6 291.6h0M662.2 321.2h0M676.8 303.4h0M611.9 297.9h0M610.8 339.7h0M631.9 353.7h0M616.7 283.5h0M608.9 345.4h0M630.9 293.8h0M605.1 297.2h0M630.0 329.2h0M650.1 337.4h0M656.5 311.1h0M656.4 308.8h0M626.2 321.1h0M602.5 328.1h0M643.2 291.0h0M640.2 285.1h0M621.6 281.7h0M612.9 348.0h0M631.0 349.9h0M636.9 337.4h0M604.3 304.0h0M606.9 336.4h0M615.7 288.0h0M607.0 342.2h0M609.3 309.2h0M651.4 306.2h0M663.6 327.1h0M659.4 286.4h0M612.9 334.8h0M659.8 282.9h0M658.9 345.3h0M599.3 315.4h0M637.3 275.3h0M629.6 282.2h0M636.2 335.9h0M673.4 333.5h0M672.1 316.4h0M637.4 326.3h0M603.6 302.1h0M645.5 302.5h0M622.2 296.7h0M648.7 355.0h0M668.2 321.2h0M669.6 329.2h0M616.2 301.3h0M619.1 354.4h0M623.8 317.9h0M624.5 281.4h0M629.0 331.9h0M611.4 312.6h0M633.6 296.7h0M638.3 272.3h0M632.9 278.4h0M633.1 280.8h0M662.1 314.3h0M648.4 287.3h0M598.0 323.6h0" stroke="#5040c0" stroke-width="1.0" stroke-linecap="round" fill="none" opacity="1"/></g>
<ellipse cx="638.95" cy="315.60" rx="41.55" ry="44.20" fill="none" stroke="#6e6cd0" stroke-width="0.8" opacity="0.8"/>
<rect x="414.40" y="367.50" width="85.60" height="90.10" fill="#fff" stroke="#333" stroke-width="1"/>
<g clip-path="url(#cp10)"><ellipse cx="457.20" cy="412.55" rx="42.20" ry="44.65" fill="#a2a6ee"/><path d="M475.1 403.7h0M487.7 397.4h0M452.7 393.9h0M466.4 371.6h0M496.1 413.1h0M470.2 384.0h0M486.6 423.6h0M495.2 418.7h0M443.0 416.6h0M464.6 440.7h0M488.0 407.7h0M487.1 433.8h0M465.0 401.0h0M424.4 385.2h0M445.7 380.2h0M431.3 420.4h0M468.8 371.7h0M455.7 404.9h0M473.5 388.8h0M443.3 433.3h0M418.1 428.1h0M490.8 396.4h0M493.8 411.2h0M457.2 441.2h0M439.6 447.0h0M486.2 387.1h0M473.7 408.7h0M423.5 436.0h0M469.6 409.8h0M469.7 439.0h0M457.4 435.2h0M490.2 404.6h0M439.0 383.9h0M463.0 425.3h0M468.5 378.0h0M491.5 437.9h0M438.8 385.0h0M454.5 396.2h0M473.3 426.9h0M451.5 439.4h0M460.2 432.0h0M438.2 430.5h0M437.3 377.6h0M478.8 433.4h0M460.6 442.0h0M480.3 423.7h0M486.2 399.6h0M460.0 425.1h0M482.6 426.1h0M466.7 447.5h0M455.3 379.9h0M424.4 412.8h0M480.4 444.2h0M454.8 371.3h0M471.9 401.6h0M424.5 388.1h0M458.8 420.8h0M468.9 427.6h0M460.3 443.2h0M443.0 398.2h0M469.8 455.2h0M463.3 455.8h0M436.6 427.0h0M482.7 416.5h0M457.4 412.1h0M455.8 442.6h0M453.5 396.5h0M487.2 442.6h0M477.1 437.0h0M468.9 405.2h0M476.0 391.5h0M479.3 379.9h0M439.6 383.9h0M490.5 386.5h0M492.7 432.0h0M471.8 446.3h0M452.2 401.7h0M436.6 391.0h0M458.5 408.4h0M474.7 452.1h0M473.7 399.9h0M435.3 440.6h0M456.4 420.9h0M434.4 428.7h0M470.4 440.2h0M449.6 396.5h0M425.9 388.1h0M422.1 404.3h0M459.8 413.9h0M456.3 409.9h0M473.2 409.3h0M433.6 409.0h0M435.9 415.6h0M471.9 421.6h0M432.1 386.4h0M466.5 375.7h0M448.0 386.6h0M462.1 452.1h0M484.0 431.6h0M447.3 373.9h0M442.8 406.0h0M445.2 405.3h0M458.4 435.2h0M422.1 404.7h0M454.0 391.8h0M434.8 384.0h0M472.8 400.9h0M445.9 393.1h0M462.7 451.3h0M448.5 369.8h0M448.5 435.9h0M486.0 422.3h0M493.1 395.1h0M461.9 427.2h0M481.0 424.4h0M456.6 449.1h0M445.1 440.6h0M493.8 393.6h0M479.7 431.0h0M470.0 403.9h0M457.4 373.4h0M479.9 426.9h0M458.9 396.2h0M472.6 420.3h0M465.9 396.6h0M488.8 403.2h0M422.3 420.7h0M487.0 437.6h0M457.5 435.1h0M449.6 429.3h0M447.3 428.8h0M494.0 415.1h0M490.4 386.8h0M440.0 433.0h0M447.1 422.8h0M480.0 397.1h0M485.1 387.3h0M452.2 374.1h0M456.5 448.7h0M465.4 398.8h0M437.4 447.2h0M483.4 445.7h0M442.1 380.2h0M478.6 388.5h0M437.3 446.0h0M494.4 419.0h0M467.1 417.5h0M470.5 371.3h0M486.4 390.0h0M479.6 388.5h0M430.1 415.4h0M447.5 395.0h0M485.8 442.7h0M445.6 418.4h0M473.2 376.7h0M474.3 404.0h0M440.0 446.1h0M428.6 403.4h0M422.3 397.6h0M483.7 394.8h0M458.9 419.1h0M489.4 387.4h0M416.5 409.6h0M478.0 440.4h0M428.1 428.5h0M438.0 444.4h0M458.9 435.0h0M472.0 443.5h0M466.8 445.2h0M451.7 453.0h0M496.0 426.6h0M466.7 418.6h0M450.2 397.4h0M430.1 378.4h0M459.4 390.6h0M473.2 422.5h0M439.1 412.0h0M418.5 428.8h0M436.6 427.7h0M436.2 442.3h0M479.8 446.5h0M434.6 429.6h0M472.5 407.2h0M479.6 380.7h0M431.7 403.9h0M438.5 388.9h0M432.2 435.2h0M455.5 439.7h0M430.9 444.9h0M453.3 438.0h0M460.8 422.8h0M469.4 429.5h0M454.1 450.6h0M491.9 389.3h0M447.5 401.6h0M471.1 444.2h0M433.0 423.7h0M461.7 456.4h0M452.4 394.6h0M471.6 434.2h0M432.0 398.8h0M437.5 397.2h0M442.4 406.3h0M469.2 375.1h0M487.1 397.4h0M467.0 374.3h0M492.1 410.4h0M458.2 389.7h0M488.9 433.1h0M421.4 414.0h0M458.7 382.4h0M423.7 437.9h0M422.1 402.8h0M440.3 391.8h0M460.3 405.1h0M490.5 433.9h0M463.0 398.3h0M457.2 455.2h0M461.6 377.4h0M474.4 389.0h0M489.6 391.9h0M456.5 391.1h0M475.5 373.3h0M442.9 422.8h0M428.1 418.4h0M450.1 447.2h0M490.3 400.7h0M458.7 456.6h0M488.5 414.6h0M440.2 380.3h0M491.9 410.7h0M466.6 412.7h0M462.4 430.6h0M489.9 438.2h0M479.4 390.7h0M483.5 406.6h0M485.2 437.2h0M432.8 387.3h0M452.2 411.1h0M459.1 453.0h0M438.6 376.8h0M416.7 411.7h0M461.9 423.2h0M436.4 424.0h0M476.4 404.0h0M449.7 384.4h0M486.3 435.6h0M425.9 427.3h0M442.1 424.4h0M453.7 448.9h0M497.6 410.0h0M427.7 412.1h0M442.9 385.0h0M446.6 454.2h0M441.6 415.3h0M453.0 386.6h0M433.4 440.5h0M440.5 451.3h0M431.8 378.4h0M467.2 442.9h0M440.3 401.5h0M427.2 412.0h0M447.9 396.1h0M451.2 451.2h0M484.1 398.2h0M448.4 437.7h0M455.2 392.3h0M434.0 384.6h0M486.9 404.9h0M494.2 404.2h0M454.8 381.5h0M453.5 443.5h0M431.8 423.3h0M475.0 409.5h0M438.1 448.5h0M432.5 423.0h0M457.0 418.9h0M454.0 415.8h0M444.2 398.9h0M442.1 381.5h0M469.2 451.8h0M460.6 446.5h0M453.7 420.2h0M471.2 426.9h0M488.5 442.1h0M470.1 395.3h0M451.3 418.6h0M415.6 418.3h0M442.5 427.1h0M454.9 451.2h0M469.9 412.0h0M457.7 414.6h0M478.8 427.2h0M434.5 411.4h0M427.6 410.5h0M441.9 432.7h0M436.5 403.3h0M481.8 405.0h0M440.1 385.4h0M443.3 422.9h0M442.8 386.9h0M461.3 452.0h0M469.9 388.8h0M442.9 379.1h0M435.7 383.1h0M442.5 407.4h0M445.7 401.6h0M463.2 379.4h0M421.2 426.9h0M494.8 404.9h0M483.1 434.2h0M495.3 394.8h0M452.9 453.4h0M471.5 384.1h0M478.8 393.7h0M445.6 382.4h0M468.8 453.0h0M487.2 428.0h0M469.5 432.9h0M485.1 410.7h0M454.9 391.4h0M485.1 397.5h0M467.5 399.7h0M470.8 453.8h0M456.0 371.9h0M448.2 386.1h0M465.6 455.2h0M445.2 428.6h0M453.4 376.6h0M427.6 418.1h0M468.7 448.5h0M437.9 389.2h0M446.7 401.3h0M447.0 452.6h0M438.1 373.9h0M444.8 423.7h0M430.0 405.6h0M459.8 420.8h0M461.7 388.3h0M461.5 446.0h0M422.9 400.6h0M457.3 425.5h0M482.5 428.7h0M448.3 441.4h0M465.8 375.7h0M457.8 416.6h0M484.6 436.0h0M476.5 412.0h0M485.8 402.3h0M423.1 427.6h0M430.5 401.4h0M472.9 430.5h0M434.7 421.7h0M449.4 426.2h0M420.8 401.1h0M442.4 444.9h0M463.9 418.4h0M459.0 389.2h0M473.7 399.5h0M450.5 416.7h0M477.2 400.1h0M452.0 413.5h0M459.3 425.1h0M469.0 386.6h0M459.4 453.4h0M429.9 431.4h0M426.7 392.7h0M439.0 412.9h0M450.8 446.0h0M479.8 433.6h0M490.0 384.8h0M455.5 452.8h0M469.2 455.3h0M468.7 398.4h0M443.4 399.4h0M480.3 431.3h0M453.8 404.0h0M482.8 405.6h0M432.4 439.0h0M441.5 389.6h0M419.4 421.3h0M477.0 376.3h0M464.0 382.6h0M431.6 441.9h0M476.5 382.3h0M475.0 440.5h0M450.2 424.8h0M438.7 448.7h0M433.3 423.4h0M473.9 391.6h0M476.7 407.3h0M470.4 414.7h0M431.1 396.9h0M463.6 396.4h0M454.5 440.6h0M448.9 379.9h0M469.4 381.5h0M480.3 400.6h0M462.1 383.2h0M429.5 385.1h0M441.1 374.0h0M476.7 436.2h0M466.2 378.4h0M474.6 409.3h0M451.8 414.3h0M422.1 435.4h0M479.1 380.6h0M430.4 434.5h0M464.4 437.3h0M474.0 383.3h0M449.4 404.7h0M486.1 435.4h0M445.5 403.8h0M486.1 380.4h0M495.1 424.4h0M450.5 454.8h0M426.8 420.8h0M489.9 405.7h0M436.7 388.2h0M461.9 410.8h0M490.5 419.5h0M459.1 440.0h0M448.6 381.4h0M464.7 369.7h0M463.0 394.9h0M477.3 447.5h0M418.4 399.8h0M445.5 447.8h0M484.4 440.2h0M481.0 444.2h0M465.7 454.9h0M463.3 400.2h0M481.3 410.1h0M478.0 400.6h0M483.0 443.7h0M458.9 449.8h0M452.6 425.7h0M464.6 424.8h0M457.4 399.1h0M481.4 417.6h0M465.8 375.9h0M455.9 391.9h0M483.5 401.4h0M471.1 395.4h0M431.3 415.8h0M477.4 395.4h0M450.6 441.5h0M491.4 390.3h0M486.9 395.6h0M421.3 435.6h0M479.2 379.5h0M430.7 418.2h0M468.4 376.3h0M476.9 409.7h0M465.8 419.9h0M476.5 450.7h0M430.6 404.8h0M445.4 441.3h0M488.6 408.2h0M462.5 383.4h0M490.6 392.9h0M458.6 421.8h0M452.1 441.9h0M423.0 423.5h0M468.6 380.3h0M432.5 433.4h0M491.3 406.5h0M461.9 453.2h0M452.7 388.5h0M435.6 444.1h0M487.8 418.7h0M463.9 380.2h0M449.1 413.1h0M455.3 448.9h0M438.8 390.1h0M448.0 436.8h0M436.3 443.6h0M457.3 395.4h0M456.9 444.6h0M487.7 383.8h0M457.2 375.3h0M460.6 427.4h0M470.3 425.5h0M420.6 406.2h0M434.8 448.2h0M430.3 400.9h0M483.6 443.9h0M490.2 437.5h0M491.7 420.4h0M419.6 403.5h0M470.8 447.3h0M455.0 427.7h0M439.9 409.3h0M484.6 432.6h0M471.0 427.4h0M417.2 420.6h0M424.1 438.7h0M496.1 403.7h0M417.9 400.3h0M478.8 380.6h0M487.1 436.3h0M428.9 439.1h0M466.0 389.9h0M479.2 384.1h0M497.7 405.6h0M488.0 431.1h0M427.0 425.5h0M456.1 421.5h0M493.5 411.3h0M481.4 446.2h0M459.5 411.7h0M491.2 422.3h0M441.1 413.5h0M438.1 423.7h0M476.7 411.1h0M417.8 416.7h0M452.6 374.0h0M454.7 392.5h0M426.5 390.4h0M485.3 436.1h0M434.9 380.9h0M419.8 396.2h0M458.6 378.8h0M432.7 425.6h0M487.3 387.0h0M456.1 449.8h0M468.9 373.0h0M469.7 378.6h0M488.9 385.4h0M457.3 455.6h0M471.8 427.3h0M435.6 401.3h0M464.2 395.0h0M429.0 431.4h0M452.9 419.4h0M460.6 395.3h0M463.3 370.6h0M422.8 406.7h0M439.2 444.1h0M492.8 413.1h0M476.7 422.1h0M435.8 445.2h0M444.5 372.8h0M463.9 418.7h0M433.5 397.5h0M497.3 425.2h0M465.5 400.0h0M432.5 445.6h0M472.4 424.3h0M452.8 435.4h0M466.0 411.7h0M446.5 428.2h0M476.2 403.2h0M433.7 386.3h0M426.1 417.5h0M452.0 398.9h0M464.6 385.1h0M470.9 436.9h0M426.1 435.3h0M464.7 379.7h0M485.8 434.8h0M468.5 372.4h0M479.7 443.4h0M471.3 386.2h0M459.2 379.3h0M442.8 372.2h0M477.7 414.0h0M474.9 439.2h0M450.0 455.6h0M447.3 390.2h0M419.6 415.9h0M422.2 397.2h0M471.8 433.4h0M451.9 404.9h0M455.2 442.3h0M489.7 390.4h0M435.2 421.0h0M451.6 372.4h0M420.2 433.3h0M479.0 416.0h0M427.0 399.6h0M480.3 380.5h0M471.2 411.1h0M442.1 433.6h0M475.8 451.7h0M462.0 402.6h0M416.9 403.1h0M497.7 419.5h0M433.7 402.6h0M494.8 395.0h0M421.7 434.3h0M448.4 377.7h0M468.7 370.3h0M435.5 407.8h0M487.8 417.6h0M481.8 446.6h0M467.9 438.8h0M455.1 413.6h0M471.1 373.8h0M458.6 415.4h0M436.5 396.9h0M438.5 421.6h0M418.3 429.1h0M445.5 440.7h0M446.8 424.2h0M468.4 440.5h0M455.7 390.4h0M478.6 422.4h0M484.2 419.2h0M424.1 406.8h0M454.2 451.8h0M449.1 412.5h0M427.9 387.0h0M462.0 385.1h0M492.5 391.7h0M474.0 380.5h0M470.9 375.6h0M460.7 416.1h0M461.0 453.7h0M420.6 390.9h0M457.3 391.3h0M421.9 413.5h0M459.8 386.8h0M433.0 399.9h0M468.8 419.0h0M463.9 419.4h0M454.5 444.3h0M447.2 443.6h0M484.2 394.3h0M425.0 392.4h0M499.0 412.7h0M467.1 423.2h0M453.9 412.7h0M443.1 426.2h0M435.5 426.3h0M455.0 412.7h0M480.3 394.9h0M474.2 374.4h0M459.9 440.0h0M462.4 394.2h0M451.3 447.7h0M418.7 406.2h0M464.9 444.2h0M458.0 429.6h0M433.8 446.5h0M474.0 423.5h0M450.4 411.2h0M460.2 390.9h0M422.5 403.5h0M497.4 401.4h0M463.9 445.5h0M461.6 451.7h0M449.8 382.3h0M494.9 412.3h0M433.4 421.3h0M426.9 418.6h0M461.0 417.1h0M479.2 408.1h0M458.1 409.5h0M464.2 438.6h0M420.4 392.5h0M425.4 389.8h0M497.4 422.3h0M447.7 406.9h0M472.8 399.5h0M415.5 416.2h0M466.5 451.2h0M425.1 432.8h0M433.5 444.1h0M479.8 393.1h0M474.6 438.1h0M477.5 448.4h0M467.9 399.4h0M488.9 394.6h0M427.0 386.2h0M425.1 409.9h0M441.6 415.7h0M478.9 393.3h0M428.0 421.3h0M490.1 415.1h0M469.0 416.4h0M425.4 440.9h0M455.6 404.5h0M434.4 421.0h0M451.9 398.1h0M477.7 420.0h0M497.9 403.9h0M483.9 440.5h0M471.6 426.6h0M485.9 438.2h0M426.8 399.3h0M431.3 390.8h0M450.4 402.2h0M457.0 452.4h0M490.8 409.7h0M436.4 400.1h0M444.4 444.3h0M424.4 419.8h0M456.1 444.4h0M463.4 451.1h0M444.1 430.3h0M487.4 427.9h0M424.7 425.8h0M432.4 442.3h0M482.4 397.6h0M455.2 412.7h0M467.9 445.9h0M429.2 391.9h0M450.1 406.9h0M482.9 394.0h0M434.0 380.8h0M420.2 421.7h0M481.5 445.2h0M490.0 422.9h0M487.8 390.5h0M445.2 413.2h0M476.6 451.8h0M481.4 394.5h0M452.8 441.1h0M459.5 430.1h0M451.2 402.9h0M453.0 424.8h0M447.6 378.9h0M441.6 384.8h0M452.1 397.5h0M476.2 385.5h0M449.8 382.2h0M451.2 410.4h0M449.4 451.7h0M428.5 389.0h0M472.9 384.2h0M468.6 393.5h0M445.6 383.8h0M465.3 404.5h0M445.2 382.5h0M456.1 433.6h0M493.9 425.9h0M494.6 430.8h0M418.4 405.6h0M455.4 416.2h0M436.7 383.6h0M492.7 432.0h0M450.3 404.2h0M494.8 404.6h0M491.0 400.3h0M474.3 376.8h0M448.5 396.1h0M439.4 449.4h0M446.6 455.6h0M481.2 404.3h0M452.0 444.4h0M465.6 384.6h0M455.4 441.5h0M432.1 424.0h0M435.3 407.6h0M471.2 445.7h0M474.3 400.8h0M441.7 387.9h0M430.1 445.2h0M474.2 392.0h0M436.1 410.7h0M481.4 439.3h0M497.0 400.7h0M493.5 398.6h0M485.8 444.6h0M432.4 389.2h0M442.9 420.3h0M422.0 393.6h0M437.5 401.7h0M465.9 447.3h0M451.7 423.8h0M432.8 433.6h0M435.4 399.9h0M472.9 452.4h0M433.5 436.5h0M473.7 441.2h0M474.1 415.0h0M418.2 415.5h0M472.0 386.0h0M447.6 419.4h0M464.0 449.2h0M445.0 379.9h0M460.0 378.1h0M437.1 447.0h0M477.4 378.8h0M427.4 436.9h0M485.9 415.1h0M459.6 428.7h0M445.3 386.9h0M418.4 398.3h0M429.4 405.1h0M452.0 398.7h0M490.4 395.7h0M449.2 423.7h0M418.8 402.3h0M472.1 447.9h0M441.7 440.1h0M421.9 416.5h0M475.7 407.4h0M448.6 411.6h0M439.6 411.3h0M449.7 401.9h0M443.9 448.4h0M482.4 423.6h0M455.9 373.5h0M438.2 394.0h0M423.4 405.6h0M459.6 420.5h0M476.5 445.4h0M475.2 431.3h0M432.8 417.3h0M415.8 414.5h0M476.4 450.2h0M429.1 399.7h0M439.1 395.8h0M422.8 394.5h0M474.4 386.5h0M459.8 449.7h0M451.5 379.0h0M445.7 449.3h0M436.1 388.3h0M457.1 400.5h0M455.2 446.8h0M453.5 445.6h0M487.8 398.0h0M427.7 408.8h0M447.3 453.8h0M491.5 430.4h0M445.3 448.0h0M457.6 452.5h0M418.1 421.6h0M498.5 411.0h0M453.9 376.2h0M427.1 412.8h0M454.5 453.5h0M445.8 377.5h0M426.3 396.4h0M445.7 415.1h0M480.6 401.2h0M486.9 402.5h0M459.4 414.5h0M490.7 402.9h0M451.4 388.1h0M491.4 431.3h0M426.6 394.5h0M442.9 406.2h0M454.7 456.1h0M436.3 424.4h0M493.0 410.2h0M465.3 400.7h0M484.2 424.4h0M436.5 394.9h0M453.6 423.4h0M452.0 412.5h0M422.9 418.8h0M466.9 422.5h0M462.3 401.0h0M447.4 399.0h0M447.7 393.6h0M466.5 453.0h0M432.3 395.7h0M435.4 407.7h0M428.0 420.5h0M479.4 390.8h0M451.0 398.6h0M445.6 455.4h0M429.2 442.1h0M450.4 427.9h0M451.7 370.7h0M470.1 440.2h0M476.5 379.6h0M451.3 434.6h0M456.5 372.3h0M445.8 408.5h0M447.9 455.4h0M473.7 433.8h0M487.7 435.6h0M458.8 392.7h0M466.5 452.5h0M477.4 444.0h0M436.3 417.3h0M489.7 422.1h0M495.8 414.9h0M437.6 437.2h0M487.6 396.4h0M460.7 381.5h0M431.2 404.1h0M441.6 425.5h0M456.5 370.5h0M455.9 373.1h0M443.0 391.0h0M438.2 379.4h0M428.7 395.8h0M488.7 433.5h0M435.4 389.5h0M427.1 430.3h0M483.9 427.4h0M486.8 440.8h0M426.5 428.6h0M451.6 415.8h0M462.3 398.5h0M427.0 407.3h0M483.9 436.0h0M481.6 429.5h0M466.4 412.5h0M459.6 397.8h0M431.0 446.9h0M433.0 431.4h0M471.0 377.1h0M452.7 393.2h0M435.5 443.3h0M459.9 395.5h0M424.7 407.5h0M444.1 386.3h0M442.6 415.7h0M437.4 419.6h0M416.8 400.9h0M431.4 446.7h0M464.0 447.4h0M429.9 414.9h0M439.0 438.5h0M481.8 411.6h0M418.4 412.7h0M458.0 417.6h0M463.4 406.1h0M453.3 452.1h0M462.4 409.9h0M442.9 450.8h0M438.9 375.2h0M460.5 403.1h0M454.2 378.8h0M469.3 445.6h0M420.3 408.0h0M485.2 422.1h0M456.7 383.2h0M437.2 374.3h0M456.3 378.1h0M489.2 430.8h0M454.1 454.2h0M456.8 372.2h0M430.7 421.4h0M464.3 371.2h0M459.7 371.6h0M454.4 423.1h0M450.1 376.1h0M461.5 444.6h0M497.5 422.4h0M419.6 402.8h0M489.7 399.2h0M485.7 439.6h0M458.1 384.7h0M459.3 402.0h0M424.7 396.8h0M440.5 374.0h0M428.2 407.5h0M454.4 436.2h0M421.1 411.8h0M483.0 417.3h0M492.4 436.3h0M445.7 382.8h0M448.4 403.6h0M430.4 422.6h0M450.3 405.1h0M477.6 402.7h0M439.0 375.2h0M471.1 415.0h0M475.7 434.4h0M451.3 369.1h0M427.5 429.7h0M445.2 375.7h0M452.5 408.0h0M463.8 388.2h0M452.7 368.2h0M441.1 431.6h0M484.8 411.9h0M418.9 420.5h0M442.8 452.9h0M433.4 443.0h0M475.2 378.6h0M428.2 417.3h0M432.6 438.4h0M490.2 386.9h0M438.8 430.5h0M451.1 407.5h0M419.3 393.0h0M453.7 392.1h0M431.8 410.1h0M416.9 424.2h0M497.0 406.2h0M460.7 385.2h0M423.7 397.7h0M446.0 388.1h0M442.4 436.5h0M496.2 429.1h0M425.7 399.5h0M460.8 371.0h0M477.4 383.9h0M445.6 397.7h0M437.2 439.0h0M434.0 405.9h0M455.6 385.8h0M457.1 385.2h0M474.5 384.9h0M423.6 435.9h0M453.8 410.1h0M430.0 430.3h0M457.1 421.2h0M467.9 433.7h0M441.2 392.1h0M462.4 420.1h0M454.7 396.4h0M451.0 395.9h0M468.9 417.1h0M486.1 382.9h0M436.2 386.6h0M440.6 386.4h0M469.2 391.6h0M439.4 373.0h0M432.8 424.1h0M434.3 443.9h0M434.9 415.9h0M459.3 397.5h0M470.2 445.7h0M438.4 449.7h0M464.0 385.5h0M496.1 425.7h0M485.6 434.1h0M433.0 397.0h0M426.1 411.5h0M495.0 416.6h0M455.0 374.2h0M465.8 407.1h0M474.6 443.1h0M472.5 415.5h0M487.8 415.0h0M465.6 418.3h0M443.2 423.2h0M486.6 430.7h0M449.8 370.8h0M473.5 388.6h0M472.3 390.2h0M475.9 416.5h0M491.8 406.6h0M477.3 429.1h0M490.6 430.6h0M480.7 401.0h0M452.5 376.8h0M493.3 411.5h0M482.9 380.3h0M491.2 417.9h0M430.2 383.8h0M477.8 403.5h0M485.2 388.7h0M448.7 409.9h0M442.2 435.3h0M471.1 416.9h0M434.1 375.7h0M449.9 386.7h0M441.9 417.1h0M486.4 434.7h0M445.5 396.9h0M419.0 418.5h0M484.8 422.7h0M472.8 387.3h0M448.0 415.6h0M474.7 378.3h0M452.4 423.8h0M420.9 407.4h0M481.5 376.1h0M472.1 417.0h0M484.5 443.5h0M496.8 427.7h0M444.1 435.8h0M464.3 376.1h0M418.0 422.8h0M419.1 405.2h0M437.8 398.0h0M451.2 384.5h0M460.5 375.3h0M456.1 369.1h0M421.0 390.8h0M462.3 385.9h0M473.0 400.2h0M467.9 427.1h0M452.2 400.6h0M478.7 438.5h0M438.8 375.7h0M497.7 402.9h0M434.7 396.8h0M497.9 417.7h0M484.7 414.8h0M434.8 429.0h0M459.4 441.7h0M447.2 412.2h0M438.8 403.4h0M433.5 402.7h0M483.2 431.2h0M452.9 422.5h0M480.8 388.6h0M438.8 428.8h0M420.5 394.9h0M437.8 443.5h0M441.7 392.8h0M451.9 431.0h0M451.3 375.4h0M448.0 418.4h0M455.8 450.4h0M450.3 415.2h0M456.9 382.3h0M483.9 413.0h0M494.3 426.4h0M438.0 401.3h0M440.6 381.9h0M470.8 410.1h0M452.2 439.0h0M468.2 404.4h0M442.0 396.6h0M419.8 426.8h0M446.2 414.0h0M468.5 385.7h0M451.7 405.7h0M439.4 439.9h0M434.6 448.2h0M481.6 412.3h0M431.1 443.6h0M449.6 395.6h0M452.2 454.9h0M487.6 402.7h0M471.5 382.5h0M481.7 443.9h0M443.3 392.8h0M485.9 392.1h0M473.0 382.5h0M439.4 403.2h0M430.4 378.5h0M451.4 450.6h0M459.1 405.8h0M477.1 384.0h0M423.0 430.8h0M454.8 408.8h0M458.8 396.5h0M492.4 416.5h0M431.7 438.4h0M422.7 436.1h0M466.3 425.0h0M451.4 374.7h0M471.2 384.4h0M436.9 388.9h0M492.3 400.8h0M485.0 409.9h0M427.7 414.0h0M462.5 435.7h0M432.9 429.1h0M460.9 418.6h0M492.0 409.7h0M448.4 419.2h0M457.4 387.4h0M478.6 431.3h0M467.6 385.8h0M473.7 395.6h0M480.4 409.5h0M442.6 391.8h0M423.3 431.8h0M452.5 379.1h0M454.9 417.3h0M495.3 423.1h0M441.8 437.0h0M457.0 380.6h0M425.1 413.8h0M444.6 407.4h0M426.5 390.3h0M446.1 443.7h0M453.5 385.8h0M447.6 394.5h0M437.7 394.4h0M459.4 375.8h0M496.5 403.4h0M494.9 392.8h0M464.7 433.1h0M469.9 429.7h0M490.0 416.6h0M451.9 390.5h0M435.9 436.5h0M473.9 373.7h0M471.6 417.8h0M432.6 404.9h0M481.0 442.8h0M442.5 429.5h0M468.8 400.0h0M470.6 387.2h0M448.5 453.9h0M471.1 404.5h0M469.0 391.0h0M474.7 447.6h0M453.4 426.4h0M436.7 404.1h0M450.6 370.4h0M440.2 401.8h0M428.4 387.9h0M485.6 381.7h0M471.9 383.3h0M468.2 372.0h0M429.4 427.2h0M457.9 419.6h0M471.3 451.0h0" stroke="#2c1cbf" stroke-width="1.0" stroke-linecap="round" fill="none" opacity="1"/><path d="M455.9 430.0h0M472.9 439.8h0M425.9 390.2h0M454.3 414.9h0M445.2 449.4h0M468.7 413.1h0M433.2 378.2h0M474.7 451.8h0M451.5 390.9h0M462.0 454.3h0M487.5 437.4h0M439.3 393.2h0M447.8 453.9h0M443.9 376.6h0M450.2 393.5h0M453.7 423.2h0M482.5 415.0h0M448.8 391.0h0M427.7 432.6h0M436.1 446.6h0M475.9 442.9h0M447.7 396.5h0M485.5 444.5h0M456.9 439.6h0M418.5 419.9h0M484.7 418.0h0M422.7 421.9h0M463.5 450.5h0M485.6 380.7h0M488.8 440.2h0M482.7 398.6h0M487.8 442.8h0M459.1 416.8h0M450.6 411.9h0M421.8 390.9h0M464.8 405.6h0M473.2 442.2h0M423.8 435.3h0M483.6 378.9h0M482.4 402.4h0M442.8 411.3h0M459.4 439.5h0M441.7 378.7h0M471.0 427.7h0M421.6 391.1h0M435.4 442.1h0M493.1 403.4h0M436.1 384.8h0M475.5 408.4h0M450.5 434.0h0M441.3 402.0h0M448.3 408.8h0M458.7 426.1h0M488.1 424.5h0M432.0 409.0h0M420.7 405.4h0M460.5 385.6h0M440.3 395.9h0M466.5 410.3h0M459.8 383.5h0M473.1 427.8h0M488.4 385.8h0M474.3 375.2h0M479.4 379.6h0M478.8 378.4h0M470.6 397.5h0M457.3 426.7h0M466.3 441.3h0M430.3 381.3h0M424.4 391.3h0M430.2 445.7h0M433.9 396.7h0M463.5 450.5h0M433.4 423.7h0M452.7 441.1h0M444.6 415.2h0M457.0 374.9h0M471.5 436.8h0M451.6 429.5h0M484.5 402.1h0M443.8 403.3h0M496.1 414.2h0M436.8 440.6h0M424.8 400.4h0M487.1 440.6h0M480.9 416.8h0M475.9 443.9h0M440.2 420.4h0M473.7 391.0h0M482.8 384.8h0M465.3 411.3h0M461.6 417.2h0M485.8 424.3h0M484.6 418.7h0M493.9 398.1h0M431.1 437.4h0M494.9 414.0h0M441.7 383.1h0M422.5 436.3h0M478.5 447.2h0M450.8 454.9h0M490.4 396.1h0M459.4 378.8h0M423.6 426.2h0M453.0 376.9h0M444.6 393.1h0M428.6 427.5h0M484.0 438.8h0M485.3 419.1h0M450.2 375.2h0M473.8 404.7h0M432.7 412.5h0M483.5 399.4h0M475.8 443.8h0M436.0 437.1h0M429.3 444.9h0M433.8 434.4h0M476.0 416.2h0M489.1 401.4h0M479.6 384.8h0M480.4 407.7h0M424.8 390.9h0M472.4 434.1h0M497.5 399.7h0M452.5 379.8h0M474.4 399.3h0M466.1 427.0h0M462.5 395.6h0M429.0 397.5h0M439.0 422.7h0M481.6 429.5h0M438.3 446.1h0M451.0 424.1h0M447.2 398.4h0M485.2 424.0h0M439.9 411.3h0M459.3 411.0h0M441.1 371.4h0M428.8 434.2h0M463.5 422.4h0M481.6 439.0h0M420.4 391.7h0M449.0 373.5h0M452.9 421.9h0M484.9 408.5h0M487.4 433.2h0M454.2 397.7h0M456.0 410.2h0M443.7 435.8h0M463.1 381.0h0M450.5 440.0h0M469.4 384.4h0M463.8 441.8h0M464.5 377.3h0M480.7 422.6h0M450.0 425.1h0M488.0 387.4h0M449.4 454.6h0M440.6 421.2h0M458.9 386.9h0M437.0 385.3h0M465.3 391.0h0M464.0 372.2h0M428.5 438.5h0M415.6 408.1h0M438.8 448.7h0M421.4 434.2h0M438.7 416.0h0M447.6 399.6h0M471.4 440.6h0M443.7 382.8h0M457.7 385.6h0M481.4 416.8h0M492.4 392.1h0M449.4 454.7h0M420.7 421.4h0M427.4 410.6h0M458.0 374.0h0M462.2 399.9h0M439.9 402.7h0M494.9 413.0h0M472.4 383.5h0M440.6 376.3h0M479.0 429.5h0M440.9 403.4h0M429.2 398.6h0M437.0 434.9h0M435.4 383.5h0M478.1 377.2h0M438.8 428.2h0M439.6 415.4h0M478.1 394.6h0M458.2 445.9h0M462.0 411.8h0M431.0 382.3h0M454.6 392.5h0M438.3 382.4h0M448.6 451.2h0M492.7 418.5h0M468.5 437.9h0M444.5 420.5h0M444.3 454.3h0M428.5 436.7h0M470.6 398.2h0M475.1 428.1h0M482.9 415.9h0M467.6 442.7h0M465.8 419.2h0M451.9 447.9h0M466.6 382.7h0M452.3 385.7h0M468.7 381.5h0M454.2 399.1h0M455.6 374.8h0M454.3 440.4h0M447.7 455.4h0M496.8 409.8h0M460.7 407.3h0M470.1 377.9h0M439.5 445.1h0M458.6 387.4h0M497.2 398.6h0M459.0 437.1h0M465.5 418.4h0M483.3 414.7h0M436.2 434.6h0M473.8 398.9h0M440.6 429.3h0M439.1 395.4h0M418.7 394.6h0M464.6 404.9h0M431.1 409.8h0M463.3 369.9h0M449.2 428.0h0M462.1 377.4h0M441.6 374.9h0M453.8 434.7h0M484.0 439.8h0M461.1 382.3h0M469.6 400.2h0M475.3 423.7h0M476.1 392.2h0M422.6 405.2h0M440.1 428.5h0M449.3 453.2h0M481.0 431.6h0M433.5 383.5h0M444.7 391.6h0M416.2 418.6h0M466.5 394.4h0M429.7 429.9h0M488.8 400.5h0M435.8 426.2h0M473.1 418.4h0M465.3 371.3h0M448.7 410.7h0M439.9 380.3h0M485.9 426.1h0M492.6 420.7h0M464.2 430.0h0M448.6 401.7h0M420.2 426.7h0M450.7 389.1h0M473.9 371.9h0M460.1 387.7h0M463.0 442.6h0M447.9 394.9h0M427.8 390.6h0M474.0 446.4h0M455.9 456.0h0M481.4 414.7h0M495.3 418.7h0M497.1 416.2h0M432.4 398.5h0M422.8 412.9h0M442.9 446.2h0M486.3 417.5h0M443.9 404.5h0M496.7 428.2h0M494.3 400.8h0M424.3 421.5h0M480.5 392.2h0M446.0 434.6h0M435.8 446.2h0M471.6 410.4h0M439.2 384.1h0M433.7 402.5h0M461.8 415.7h0M434.8 430.9h0M443.4 428.7h0M485.9 381.7h0M433.8 418.1h0M431.4 417.8h0M451.0 383.0h0M490.7 426.7h0M483.4 432.6h0M437.3 450.5h0M441.8 443.3h0M441.0 405.7h0M427.7 383.9h0M456.3 446.7h0M419.9 428.6h0M462.6 427.7h0M444.1 437.0h0M433.3 430.0h0M434.8 441.4h0M438.3 409.2h0M471.0 382.8h0M457.4 436.6h0M455.6 445.0h0M493.6 408.1h0M490.7 407.8h0M474.1 450.3h0M466.7 432.1h0M479.9 393.7h0M460.0 407.2h0M477.6 439.7h0M473.0 430.1h0M444.3 391.3h0M433.7 434.5h0M437.6 450.4h0M489.6 393.9h0M445.4 438.2h0M440.1 431.4h0M444.4 433.9h0M456.1 370.6h0M447.9 386.0h0M451.3 454.1h0M453.0 424.8h0M426.3 406.5h0M430.6 430.4h0M469.1 405.6h0M441.4 381.0h0M474.2 439.5h0M456.8 384.4h0M482.9 387.5h0M450.6 382.1h0M485.5 428.1h0M433.4 448.7h0M474.9 431.0h0M476.4 407.2h0M434.4 408.2h0M453.9 375.7h0M428.9 418.0h0M485.1 420.1h0M472.5 450.7h0M467.1 433.3h0M486.7 439.2h0M477.5 398.6h0M452.7 368.5h0M455.6 453.0h0M435.6 437.8h0M467.1 406.8h0M447.9 426.3h0M494.9 412.0h0M493.0 408.1h0M472.1 388.7h0M453.7 396.8h0M476.4 410.1h0M452.5 398.8h0M428.3 434.1h0M462.4 394.2h0M486.0 436.2h0M458.7 381.9h0M444.3 380.5h0M490.7 385.6h0M447.8 431.1h0M425.8 426.5h0M456.4 411.0h0M436.4 439.9h0M452.3 396.6h0M451.4 411.3h0M488.4 389.5h0M445.0 419.9h0M478.3 378.5h0M425.3 432.5h0M494.3 393.2h0M434.4 449.8h0M456.0 375.1h0M443.1 450.9h0M453.3 377.8h0M450.5 372.6h0M461.7 445.8h0M429.7 380.7h0M448.9 399.0h0M455.9 434.6h0M495.5 417.5h0M425.6 412.3h0M443.2 444.4h0M434.2 387.2h0M483.7 380.7h0M459.3 394.2h0M469.2 452.0h0M455.2 446.3h0M427.3 398.6h0M435.4 430.3h0M479.6 375.0h0M480.4 431.6h0M470.5 438.8h0M426.5 412.5h0M441.8 447.4h0M426.0 441.5h0M433.5 438.1h0M479.5 399.2h0M443.6 415.4h0M467.8 431.4h0M434.4 406.8h0M481.1 424.2h0M455.7 451.0h0M463.8 453.8h0M444.4 409.1h0M415.7 420.2h0M431.6 390.0h0M443.0 410.9h0M431.4 446.9h0M459.5 446.0h0M438.3 434.2h0M455.8 406.4h0M490.6 387.6h0M478.7 383.7h0M445.5 405.2h0M456.9 420.5h0M420.8 393.6h0M417.0 419.1h0M463.5 416.6h0M484.8 419.2h0M446.3 371.2h0M467.8 413.1h0M489.0 402.5h0M482.5 433.3h0M449.2 427.6h0M438.6 380.5h0M478.7 408.5h0M482.6 383.8h0M498.0 423.5h0M435.1 448.9h0M479.0 408.2h0M477.3 428.9h0M415.9 412.1h0M436.1 431.3h0M416.2 420.1h0M456.0 394.9h0M479.6 422.2h0M476.1 386.8h0M467.4 425.8h0M489.9 422.6h0M462.8 427.7h0M435.9 443.0h0M448.6 440.5h0M427.0 432.4h0M426.9 421.5h0M441.3 388.6h0M469.5 423.6h0M463.8 428.0h0M438.6 402.0h0M444.8 386.4h0M449.1 402.4h0M419.4 406.7h0M466.4 435.2h0M461.0 447.9h0M488.1 431.1h0M459.6 420.3h0M425.3 383.6h0M479.0 405.1h0M425.3 438.0h0M492.0 388.5h0M419.0 402.3h0M418.4 417.7h0M435.9 430.7h0M441.7 385.8h0M479.2 406.9h0M480.4 395.8h0M445.6 403.9h0M484.9 393.8h0M471.2 447.0h0M418.6 421.0h0M466.1 397.3h0M481.7 376.6h0M448.7 431.4h0M443.3 439.7h0M431.3 444.2h0M418.2 427.8h0M460.6 405.3h0M468.9 372.8h0M487.4 437.5h0M473.9 430.9h0M452.2 413.4h0M482.4 440.5h0M483.1 387.6h0M465.5 374.2h0M425.7 404.5h0M452.8 435.5h0M486.8 439.3h0M484.6 379.2h0M474.5 430.5h0M463.5 406.2h0M476.1 382.6h0M457.4 402.9h0M445.2 379.7h0M485.3 386.7h0M457.9 415.6h0M481.8 385.0h0M425.0 410.8h0M447.4 437.0h0M432.8 439.6h0M435.7 425.9h0M459.0 393.9h0M476.1 413.4h0M441.7 389.1h0M447.7 389.0h0M482.3 447.5h0M448.1 409.5h0M420.2 433.0h0M466.1 432.4h0M475.8 450.6h0M464.5 387.8h0M486.4 434.7h0M450.4 376.3h0M465.6 399.5h0M477.6 450.6h0M487.0 432.9h0M446.5 393.0h0M461.0 377.0h0M446.6 429.6h0M462.4 440.9h0M440.2 398.8h0M431.6 408.0h0M475.6 414.5h0M488.6 401.5h0M483.5 401.7h0M493.6 421.1h0M456.5 453.0h0M431.6 444.4h0M489.2 387.3h0M442.7 450.2h0M441.1 392.9h0M425.9 407.1h0M464.4 382.4h0M486.6 395.9h0M442.6 407.7h0M445.9 423.8h0M487.8 425.4h0M492.8 415.8h0M471.2 375.6h0M417.7 425.2h0M432.5 430.1h0M457.8 380.4h0M415.5 418.9h0M460.1 427.8h0M476.2 409.8h0M422.8 387.6h0M494.5 429.3h0M435.5 375.6h0M479.6 436.1h0M452.5 392.4h0M442.5 376.4h0M493.0 411.4h0M480.9 397.1h0M435.1 435.1h0M460.7 408.0h0M488.4 416.4h0M488.2 427.8h0M428.8 388.9h0M450.3 414.5h0M439.5 443.3h0M435.3 414.7h0M420.6 416.5h0M434.0 445.6h0M443.1 427.9h0M472.3 410.8h0M470.6 438.7h0M426.7 385.7h0M482.2 407.3h0M458.3 375.1h0M493.2 391.3h0M454.5 415.0h0M443.5 384.9h0M422.2 397.3h0M455.0 386.8h0M450.1 374.5h0M486.0 440.4h0M423.7 407.0h0M429.4 436.7h0M439.4 434.5h0M437.5 412.7h0M444.9 382.2h0M498.7 415.0h0M483.4 442.8h0M460.8 433.6h0M479.5 427.8h0M470.2 392.3h0M490.4 424.5h0M468.5 376.5h0M455.5 434.8h0M431.9 413.7h0M422.2 399.4h0M473.9 394.4h0M446.6 373.7h0M478.3 447.3h0M429.6 405.0h0M475.9 445.3h0M417.6 417.0h0M478.4 401.9h0M449.1 452.4h0M443.2 376.5h0M466.3 419.1h0M487.7 438.0h0M468.5 439.1h0M434.5 380.6h0M489.7 400.4h0M473.8 443.7h0M416.3 411.6h0M494.6 398.6h0M448.8 400.2h0M476.9 380.1h0M416.4 402.6h0M469.3 449.1h0M419.4 419.4h0M453.1 400.4h0M469.9 406.8h0M425.7 401.9h0M455.2 413.5h0M426.6 400.8h0M491.8 418.4h0M443.2 375.3h0M424.9 391.7h0M487.6 422.5h0M427.3 436.8h0M493.9 409.6h0M442.8 441.0h0M489.6 437.1h0M427.6 433.6h0M448.3 371.8h0M467.7 386.4h0M461.5 414.2h0M484.0 386.3h0M451.7 438.5h0M429.1 431.6h0M420.6 420.8h0M435.0 417.7h0M451.6 398.8h0M470.6 394.6h0M418.6 399.0h0M462.1 376.1h0M459.2 406.4h0M457.1 447.4h0M425.9 386.2h0M429.7 418.4h0M480.1 420.0h0M453.4 426.3h0M439.5 437.8h0M470.5 446.4h0M444.6 382.7h0M432.6 393.3h0M489.0 441.1h0M469.8 398.8h0M422.3 420.3h0M458.8 442.1h0M463.3 419.8h0M488.3 431.1h0M492.0 395.9h0M490.0 426.6h0M479.8 399.2h0M460.8 450.4h0M475.4 373.7h0M418.4 402.4h0M444.7 423.5h0M428.3 407.8h0M470.9 419.0h0M495.5 404.0h0M495.7 395.0h0M476.0 403.1h0M456.2 450.3h0M473.6 385.3h0M462.1 423.2h0M439.4 391.4h0M477.3 440.2h0M460.1 448.9h0M423.6 434.6h0M463.4 446.7h0M468.6 375.5h0M438.9 418.4h0M448.7 386.9h0M459.4 383.3h0M474.6 440.4h0M497.0 420.9h0M487.8 416.7h0M462.3 434.6h0M443.8 420.3h0M436.8 400.6h0M448.7 410.1h0M443.3 421.4h0M429.4 393.0h0M472.8 438.7h0M481.4 403.3h0" stroke="#2c1cbf" stroke-width="2.0" stroke-linecap="round" fill="none" opacity="1"/></g>
<ellipse cx="457.20" cy="412.55" rx="41.90" ry="44.35" fill="none" stroke="#5a50d8" stroke-width="0.8" opacity="0.8"/>
<rect x="505.50" y="367.50" width="85.20" height="90.10" fill="#fff" stroke="#333" stroke-width="1"/>
<g clip-path="url(#cp11)"><ellipse cx="548.10" cy="412.55" rx="42.00" ry="44.65" fill="#adb1ec"/><path d="M551.6 431.4h0M535.7 374.0h0M558.3 369.6h0M576.3 405.2h0M571.6 417.1h0M543.8 454.3h0M572.3 435.1h0M569.7 420.6h0M519.8 427.8h0M523.2 389.8h0M511.1 394.9h0M514.3 423.3h0M527.3 395.9h0M532.4 387.9h0M515.2 405.6h0M529.5 382.4h0M507.7 400.7h0M577.9 426.0h0M554.0 456.7h0M541.3 438.5h0M587.3 406.1h0M522.3 423.3h0M554.6 453.9h0M525.6 400.4h0M532.5 449.5h0M518.2 412.1h0M567.2 449.2h0M546.4 368.4h0M538.4 436.4h0M522.6 388.7h0M568.9 378.0h0M582.4 421.4h0M535.8 425.1h0M577.6 391.0h0M522.1 404.0h0M573.1 377.0h0M562.7 393.4h0M544.1 370.1h0M512.2 403.2h0M570.0 444.1h0M523.9 415.0h0M543.6 455.6h0M576.4 403.1h0M536.5 379.2h0M578.5 406.6h0M543.2 399.1h0M573.3 438.6h0M584.5 396.9h0M542.2 383.9h0M508.6 422.8h0M575.2 435.9h0M570.3 448.2h0M554.2 456.6h0M542.8 382.4h0M575.2 386.8h0M557.1 419.3h0M555.2 450.8h0M550.3 399.2h0M573.1 400.6h0M525.3 416.5h0M521.2 378.4h0M538.7 447.6h0M547.5 448.4h0M556.1 449.2h0M587.7 398.0h0M586.8 397.3h0M562.7 372.6h0M574.8 428.6h0M530.4 386.5h0M548.2 380.9h0M523.9 383.9h0M551.5 378.6h0M584.3 400.3h0M530.5 400.7h0M567.1 447.0h0M573.1 384.9h0M552.4 375.1h0M569.3 404.0h0M517.2 407.4h0M583.6 429.1h0M515.7 428.3h0M554.4 421.0h0M528.2 426.5h0M569.2 440.9h0M561.8 454.5h0M535.1 381.4h0M509.4 400.9h0M549.8 440.1h0M588.0 416.6h0M510.5 395.7h0M554.8 393.5h0M556.2 424.4h0M575.4 424.2h0M553.9 430.9h0M523.1 388.5h0M554.1 451.9h0M562.2 444.6h0M515.0 420.3h0M579.5 407.0h0M518.4 381.7h0M515.2 432.9h0M525.3 444.4h0M566.5 433.1h0M507.7 422.2h0M565.7 381.2h0M524.8 379.0h0M574.0 436.4h0M564.5 416.7h0M523.6 392.0h0M563.9 380.6h0M510.2 409.8h0M509.8 424.2h0M521.3 432.9h0M575.8 422.5h0M565.1 439.9h0M582.6 430.4h0M550.1 454.9h0M585.6 398.4h0M580.1 423.1h0M579.4 385.7h0M554.3 373.7h0M519.7 394.6h0M576.9 394.8h0M537.6 399.7h0M516.3 393.5h0M539.9 388.3h0M561.3 437.6h0M579.3 440.0h0M520.7 440.5h0M516.3 425.7h0M539.8 408.5h0M550.3 433.4h0M549.7 430.3h0M510.3 412.3h0M583.7 422.2h0M562.1 429.4h0M559.9 371.0h0M570.7 379.3h0M559.6 423.5h0M583.7 416.3h0M581.2 438.6h0M535.3 397.1h0M538.2 376.3h0M526.2 447.0h0M542.3 404.0h0M539.6 440.4h0M574.3 437.0h0M547.6 446.7h0M514.7 401.6h0M541.6 434.9h0M560.1 380.5h0M527.5 381.2h0M523.1 430.9h0M509.2 419.5h0M512.3 426.9h0M529.9 438.2h0M560.1 413.0h0M560.9 398.5h0M515.3 399.3h0M539.2 436.9h0M555.2 386.2h0M555.9 442.8h0M541.9 425.4h0M545.4 422.9h0M515.6 426.0h0M519.2 441.7h0M527.7 434.5h0M566.9 373.9h0M561.8 452.6h0M516.5 391.2h0M527.7 401.3h0M506.4 409.4h0M540.1 373.0h0M550.3 375.3h0M540.0 370.0h0M581.5 433.7h0M579.1 394.2h0M535.4 428.5h0M539.5 453.0h0M550.7 386.7h0M535.4 447.5h0M542.6 389.4h0M537.5 392.9h0M539.0 384.7h0M535.9 403.1h0M515.7 386.3h0M558.4 455.1h0M540.6 374.0h0M584.8 396.2h0M524.0 399.9h0M547.8 448.6h0M524.9 416.9h0M512.6 390.9h0M538.7 417.1h0M551.7 438.7h0M531.1 379.3h0M568.7 377.9h0M541.9 369.7h0M528.3 384.5h0M540.3 444.3h0M582.5 389.3h0M526.1 442.7h0M540.6 369.6h0M572.0 375.9h0M524.5 389.0h0M584.5 423.8h0M548.0 372.6h0M583.8 430.9h0M542.7 445.0h0M573.6 438.1h0M573.5 403.5h0M540.2 371.0h0M545.6 420.7h0M516.1 403.2h0M525.1 427.2h0M559.6 443.1h0M587.0 419.7h0M521.5 431.5h0M537.8 450.7h0M571.8 435.2h0M560.7 454.9h0M511.0 419.7h0M561.4 448.7h0M507.1 418.1h0M576.5 415.9h0M561.7 436.1h0M581.7 424.5h0M575.0 380.2h0M514.4 401.7h0M545.0 454.9h0M521.1 442.4h0M568.0 434.0h0M551.0 416.3h0M557.9 376.6h0M511.0 426.2h0M526.6 374.3h0M568.2 440.2h0M524.8 384.7h0M520.6 392.9h0M516.4 409.5h0M520.2 385.4h0M568.6 430.6h0M578.8 435.9h0M568.9 409.2h0M588.3 409.1h0M530.2 377.6h0M583.1 389.8h0M571.6 413.5h0M552.9 371.2h0M566.9 405.2h0M580.1 394.1h0M564.3 422.2h0M561.7 385.9h0M542.8 455.8h0M570.9 386.3h0M555.4 402.6h0M510.2 415.7h0M513.5 421.1h0M568.5 382.4h0M548.0 452.7h0M587.3 428.5h0M561.3 396.9h0M530.6 396.5h0M547.1 373.3h0M561.9 375.6h0M509.7 402.3h0M553.4 445.8h0M546.2 384.4h0M543.3 390.3h0M557.5 436.7h0M568.0 425.7h0M561.5 392.9h0M581.7 434.6h0M554.1 424.4h0M535.8 413.7h0M535.4 370.5h0M527.7 422.2h0M551.9 427.0h0M529.4 447.1h0M551.1 443.4h0M558.6 440.8h0M512.7 435.2h0M530.2 398.2h0M516.3 385.9h0M560.5 409.8h0M541.5 384.5h0M581.1 429.4h0M514.4 403.8h0M581.0 430.6h0M540.2 436.4h0M577.8 386.9h0M561.6 431.8h0M506.5 411.7h0M567.1 388.9h0M562.8 444.7h0M549.6 452.8h0M544.6 446.7h0M547.0 425.3h0M517.3 423.3h0M534.5 380.7h0M557.7 399.3h0M584.3 394.7h0M517.8 441.0h0M544.9 381.3h0M564.0 431.7h0M547.8 427.2h0M528.9 424.3h0M535.0 444.2h0M516.0 428.6h0M561.6 377.2h0M572.7 416.6h0M527.9 388.6h0M521.6 426.6h0M563.7 384.0h0M510.2 415.7h0M569.0 447.2h0M579.7 404.4h0M576.8 441.8h0M535.3 448.9h0M537.6 377.1h0M553.4 405.4h0M538.5 442.4h0M514.3 436.9h0M517.8 408.7h0M548.9 380.8h0M560.1 452.0h0M518.5 436.5h0M517.8 435.3h0M551.8 371.6h0M545.0 388.7h0M525.9 444.1h0M561.1 451.7h0M522.5 381.4h0M513.4 420.1h0M509.7 411.4h0M543.9 389.3h0M561.8 438.5h0M567.3 412.1h0M520.7 390.3h0M582.7 396.0h0M521.3 428.3h0M517.4 441.9h0M549.2 383.2h0M549.9 386.0h0M532.8 409.0h0M572.2 428.9h0M553.7 402.3h0M556.5 431.8h0M548.6 436.8h0M545.2 389.1h0M527.0 401.7h0M513.7 436.0h0M536.0 373.1h0M587.7 426.4h0M582.4 399.9h0M539.4 400.3h0M563.9 430.4h0M535.8 409.2h0M559.1 406.7h0M516.3 412.4h0M543.0 412.8h0M572.9 441.8h0M539.5 455.6h0M537.9 435.3h0M534.3 402.9h0M521.3 446.6h0M510.4 398.4h0M561.3 414.4h0M539.9 440.9h0M534.1 376.6h0M513.2 401.4h0M557.6 392.8h0M545.7 378.4h0M527.0 406.7h0M532.1 420.2h0M559.4 436.9h0M533.2 405.0h0M542.8 406.6h0M528.5 433.5h0M555.9 431.9h0M586.4 417.3h0M523.8 384.7h0M514.8 427.3h0M569.9 421.6h0M560.4 447.2h0M536.2 395.3h0M528.5 394.0h0M570.4 444.4h0M554.2 378.1h0M530.3 441.5h0M576.3 445.6h0M561.0 440.1h0M534.2 419.7h0M512.8 433.8h0M565.3 437.5h0M524.9 397.7h0M560.1 383.0h0M516.2 392.5h0M564.4 450.9h0M512.3 426.2h0M575.3 383.3h0M567.8 395.8h0M522.3 442.4h0M528.7 446.4h0M533.0 398.2h0M571.8 379.8h0M559.3 406.1h0M576.1 385.7h0M563.1 449.0h0M516.0 437.6h0M543.0 373.1h0M523.7 428.3h0M554.3 436.6h0M525.3 391.0h0M535.5 433.5h0M527.8 373.8h0M523.6 397.8h0M551.7 456.6h0M533.7 453.2h0M519.5 401.0h0M581.5 418.5h0M531.6 443.9h0M568.4 374.6h0M580.9 423.0h0M534.3 401.0h0M528.0 435.9h0M550.3 385.9h0M534.9 392.0h0M536.8 429.4h0M579.2 387.8h0M563.9 377.3h0M520.6 420.7h0M518.7 442.1h0M576.7 387.5h0M547.4 425.9h0M572.6 403.3h0M589.1 415.1h0M548.6 374.7h0M582.2 435.2h0M561.5 382.2h0M554.6 451.6h0M561.0 396.0h0M549.9 420.6h0M565.4 438.9h0M579.8 438.9h0M526.3 409.9h0M571.2 397.1h0M540.5 378.2h0M542.9 414.6h0M532.2 377.3h0M560.3 432.0h0M536.7 416.7h0M540.9 451.7h0M526.0 384.4h0M550.5 455.4h0M544.7 438.5h0M512.9 429.4h0M529.3 373.2h0M529.2 444.4h0M549.1 451.3h0M527.5 432.2h0M509.3 396.6h0M525.7 378.7h0M546.3 453.2h0M538.2 400.9h0M544.9 445.6h0M536.2 434.7h0M579.2 402.6h0M547.0 391.9h0M579.2 391.4h0M508.4 405.7h0M569.7 419.5h0M564.8 378.6h0M531.9 385.6h0M563.0 430.2h0M558.5 444.7h0M538.3 439.9h0M579.1 436.2h0M531.3 427.0h0M541.0 455.3h0M573.4 440.1h0M512.0 408.1h0M547.3 385.0h0M569.7 376.2h0M581.2 394.1h0M536.9 384.6h0M571.0 444.5h0M520.3 402.1h0M571.6 376.7h0M546.2 441.8h0M507.0 420.5h0M525.3 418.8h0M522.7 428.8h0M549.3 388.0h0M577.2 394.6h0M573.6 447.8h0M588.6 402.3h0M530.5 439.4h0M576.3 382.6h0M516.4 434.5h0M562.6 411.6h0M565.7 415.7h0M513.3 428.9h0M576.1 417.1h0M559.0 419.2h0M544.9 389.7h0M511.5 400.5h0M526.1 397.6h0M572.2 395.2h0M579.6 438.4h0M522.5 385.2h0M562.4 411.4h0M556.1 443.7h0M581.3 431.6h0M576.7 440.2h0M521.2 436.8h0M536.5 401.8h0M544.8 420.0h0M508.9 396.5h0M581.3 429.2h0M577.0 434.8h0M517.9 398.5h0M562.0 391.3h0M587.4 414.2h0M565.7 446.2h0M560.3 374.9h0M514.6 400.5h0M563.3 406.1h0M570.5 431.1h0M531.2 420.6h0M569.4 402.6h0M557.2 377.5h0M570.8 448.5h0M570.1 435.9h0M582.3 392.6h0M507.4 413.7h0M521.9 404.4h0M555.2 440.4h0M548.7 375.0h0M542.2 450.4h0M535.4 451.4h0M564.9 384.7h0M517.7 418.7h0M527.7 434.8h0M538.5 449.7h0M516.7 393.2h0M582.4 424.9h0M569.4 450.7h0M543.6 383.7h0M522.7 381.5h0M540.3 444.1h0M546.3 411.2h0M542.1 440.8h0M555.1 432.2h0M527.6 376.3h0M548.8 369.8h0M531.0 392.8h0M542.8 448.0h0M578.8 437.5h0M566.5 416.4h0M507.3 403.6h0M517.7 392.2h0M585.0 407.0h0M518.5 441.9h0M528.0 432.8h0M563.0 390.5h0M534.5 420.9h0M578.0 439.5h0M565.6 411.9h0M531.3 388.8h0M522.2 420.2h0M530.0 427.4h0M552.6 455.3h0M524.3 448.3h0M551.3 450.7h0M545.3 440.8h0M518.5 388.2h0M569.3 430.3h0M568.2 380.0h0M566.8 408.6h0M570.4 417.3h0M516.1 401.3h0M553.6 429.3h0M552.9 379.7h0M583.0 433.9h0M522.3 404.9h0M552.2 440.8h0M549.4 432.4h0M513.2 388.1h0M545.4 429.0h0M564.0 428.3h0M556.8 378.0h0M520.9 399.9h0M564.5 407.8h0M519.2 392.1h0M530.7 446.6h0M523.1 414.5h0M515.8 420.2h0M515.0 394.5h0M518.3 399.7h0M512.5 404.7h0M589.2 417.9h0M580.2 405.1h0M565.9 451.3h0M543.1 409.8h0M585.6 400.1h0M565.8 404.2h0M572.6 428.1h0M555.9 426.4h0M515.0 438.3h0M554.1 421.4h0M585.9 400.8h0M575.6 442.1h0M542.7 370.0h0M573.3 417.5h0M579.3 404.5h0M575.3 381.1h0M566.7 376.0h0M563.5 372.4h0M519.7 437.1h0M551.0 378.3h0M561.7 452.8h0M531.0 390.5h0M525.0 444.9h0M556.4 452.2h0M529.2 389.4h0M566.9 382.1h0M557.6 399.3h0M584.6 427.9h0M513.6 428.0h0M538.2 434.4h0M532.7 435.0h0M586.0 424.3h0M547.5 369.1h0M515.1 405.1h0M548.5 444.9h0M561.3 449.9h0M570.8 443.5h0M553.2 456.6h0M535.0 444.8h0M568.4 444.1h0M583.1 388.6h0M576.5 423.4h0M572.1 408.2h0M552.7 369.0h0M570.5 422.5h0M529.9 424.9h0M584.4 428.8h0M527.1 446.8h0M551.1 444.5h0M568.4 410.3h0M559.3 370.9h0M555.8 396.6h0M549.5 445.5h0M567.0 389.9h0M566.3 417.0h0M517.7 385.8h0M570.4 419.1h0M565.4 429.5h0M512.1 411.3h0M538.4 454.8h0M564.1 440.8h0M546.1 450.5h0M508.7 403.5h0M517.3 424.4h0M589.7 410.7h0M524.8 390.3h0M559.8 370.2h0M535.4 386.1h0M544.9 386.5h0M560.7 374.4h0M513.9 417.7h0M557.5 381.3h0M518.0 393.9h0M526.3 443.6h0M536.6 406.4h0M569.1 398.4h0M521.0 401.3h0M514.6 390.3h0M546.3 419.1h0M523.0 401.8h0M580.1 409.1h0M558.8 404.2h0M518.2 437.9h0M584.4 400.4h0M538.1 420.6h0M531.3 451.3h0M552.8 446.7h0M580.5 388.1h0M568.7 423.7h0M569.8 426.7h0M552.9 432.7h0M550.7 455.5h0M507.3 409.8h0M572.3 393.0h0M513.6 433.2h0M533.6 448.3h0M538.2 393.8h0M537.4 432.7h0M532.0 435.1h0M577.2 386.6h0M539.0 449.2h0" stroke="#3a26c0" stroke-width="1.0" stroke-linecap="round" fill="none" opacity="1"/><path d="M549.9 436.9h0M531.1 437.2h0M514.5 389.1h0M575.9 414.7h0M514.3 399.6h0M545.7 385.9h0M549.4 426.8h0M561.6 422.2h0M539.9 429.1h0M541.3 383.1h0M551.5 399.6h0M585.9 416.3h0M576.8 428.6h0M533.5 392.0h0M529.3 449.1h0M573.5 423.6h0M587.7 425.3h0M521.6 419.5h0M567.0 447.9h0M559.7 429.9h0M535.7 442.9h0M570.3 446.2h0M547.9 372.4h0M580.8 416.3h0M520.4 398.9h0M557.3 443.8h0M511.1 403.3h0M568.4 390.0h0M536.3 387.2h0M532.2 428.8h0M544.6 445.7h0M562.3 394.7h0M542.8 410.7h0M559.7 450.4h0M572.4 430.9h0M564.3 414.0h0M533.0 417.3h0M519.8 396.9h0M530.9 406.1h0M525.1 398.1h0M570.1 448.8h0M544.4 423.8h0M562.5 386.8h0M553.2 448.6h0M573.0 379.8h0M517.9 428.4h0M542.7 397.3h0M572.4 386.2h0M515.4 439.9h0M553.6 429.8h0M551.2 407.8h0M512.3 415.3h0M556.5 416.4h0M522.1 438.6h0M567.2 420.0h0M587.0 420.5h0M579.2 419.7h0M574.0 437.7h0M510.8 394.5h0M530.1 447.9h0M581.0 400.7h0M524.4 408.2h0M549.0 434.4h0M512.7 414.9h0M555.0 455.9h0M547.1 369.0h0M581.5 419.9h0M563.7 454.0h0M552.4 439.3h0M565.7 435.3h0M555.7 428.0h0M569.8 406.4h0M563.0 407.3h0M571.3 444.6h0M578.8 429.3h0M564.8 453.3h0M554.9 423.2h0M518.4 434.4h0M515.6 439.9h0M585.9 410.6h0M522.8 437.1h0M561.8 440.4h0M540.8 369.0h0M516.8 391.8h0M511.4 398.2h0M563.9 441.2h0M539.3 379.5h0M532.6 391.7h0M578.8 417.3h0M571.1 406.4h0M565.6 438.9h0M517.8 432.3h0M557.4 403.6h0M529.2 392.5h0M566.5 417.7h0M580.1 429.6h0M555.7 412.1h0M575.3 406.0h0M524.1 436.2h0M527.1 432.6h0M551.4 436.1h0M550.4 399.5h0M542.2 430.5h0M581.9 394.1h0M545.7 452.9h0M550.7 375.4h0M545.3 370.1h0M524.1 377.5h0M549.3 423.6h0M549.6 412.9h0M550.5 438.7h0M508.5 426.9h0M575.9 443.5h0M515.2 409.8h0M509.4 413.2h0M586.6 403.8h0M525.2 412.3h0M579.4 435.7h0M551.4 430.0h0M588.0 415.8h0M515.8 435.0h0M523.3 417.9h0M583.2 397.9h0M579.9 424.9h0M558.1 437.3h0M559.0 370.2h0M511.3 413.8h0M534.0 419.8h0M523.2 376.6h0M524.1 433.3h0M562.9 390.3h0M518.1 427.5h0M560.8 444.0h0M523.8 378.6h0M581.0 419.7h0M524.7 434.8h0M551.1 438.3h0M530.1 441.1h0M567.1 403.4h0M588.3 411.0h0M554.3 451.2h0M566.3 386.8h0M556.2 384.6h0M553.4 373.9h0M569.7 418.0h0M559.8 438.3h0M536.2 431.9h0M529.5 391.9h0M530.0 447.5h0M523.8 377.9h0M580.6 414.9h0M531.0 419.1h0M525.7 380.1h0M519.1 407.5h0M530.8 398.7h0M536.3 421.4h0M516.2 410.9h0M512.1 401.1h0M529.3 437.5h0M548.4 383.1h0M570.9 389.4h0M534.8 374.3h0M558.9 424.7h0M577.2 433.6h0M527.0 445.7h0M583.1 429.5h0M516.4 412.5h0M534.1 441.9h0M575.7 415.5h0M578.0 416.0h0M521.7 396.3h0M527.7 436.8h0M586.4 405.9h0M553.1 424.4h0M565.2 376.8h0M547.0 377.3h0M527.4 435.6h0M563.0 392.3h0M582.6 392.3h0M542.8 422.6h0M564.2 445.8h0M548.3 368.6h0M520.1 410.9h0M558.2 383.6h0M543.9 421.3h0M573.2 382.3h0M564.8 434.3h0M513.3 415.5h0M575.0 441.3h0M575.9 385.1h0M576.5 433.3h0M548.3 455.6h0M580.3 428.2h0M577.4 387.9h0M578.6 401.7h0M577.6 421.7h0M564.3 407.9h0M532.6 394.2h0M535.4 393.4h0M528.8 382.9h0M514.5 391.0h0M538.3 388.3h0M523.8 415.5h0M529.7 387.8h0M558.3 375.7h0M537.8 439.0h0M518.3 421.8h0M533.7 404.3h0M520.7 429.4h0M537.4 437.1h0M522.2 382.9h0M525.8 397.8h0M553.9 448.8h0M525.4 388.9h0M536.5 432.4h0M562.7 441.2h0M527.7 422.8h0M524.0 400.2h0M570.0 377.3h0M573.2 441.3h0M584.9 393.9h0M571.2 416.5h0M535.1 407.5h0M507.8 416.7h0M555.6 400.5h0M572.1 410.0h0M523.9 417.3h0M521.9 425.7h0M540.1 393.9h0M515.8 438.4h0M583.2 391.3h0M583.1 436.9h0M543.1 371.3h0M555.4 454.5h0M585.9 415.1h0M547.8 453.4h0M559.4 420.6h0M572.0 391.3h0M520.6 384.9h0M536.5 395.8h0M541.2 407.4h0M518.0 427.4h0M586.4 424.7h0M523.7 448.7h0M533.7 433.3h0M578.5 428.0h0M564.8 389.0h0M566.7 421.4h0M571.8 439.6h0M512.9 401.3h0M559.4 450.4h0M553.5 381.3h0M553.7 429.7h0M554.4 375.7h0M533.1 446.4h0M539.8 428.9h0M554.9 411.8h0M541.4 432.9h0M579.7 409.0h0M536.1 449.1h0M537.0 379.8h0M588.3 419.0h0M516.2 431.7h0M533.3 432.1h0M540.5 429.5h0M535.8 422.5h0M587.7 402.8h0M524.4 376.7h0M561.3 374.9h0M517.3 421.9h0M560.0 452.3h0M531.5 410.5h0M527.4 447.7h0M553.8 437.7h0M573.2 388.8h0M516.2 419.7h0M517.8 412.1h0M544.4 422.5h0M554.9 455.3h0M520.7 426.5h0M564.4 430.3h0M564.8 450.6h0M522.0 411.1h0M532.5 439.4h0M551.4 373.5h0M509.8 406.9h0M574.2 427.4h0M529.7 424.0h0M516.8 395.9h0M555.3 411.2h0M520.8 404.5h0M521.2 425.3h0M551.0 430.7h0M582.4 420.4h0M512.3 406.3h0M549.2 417.1h0M555.4 387.1h0M540.4 454.0h0" stroke="#3a26c0" stroke-width="2.0" stroke-linecap="round" fill="none" opacity="1"/></g>
<ellipse cx="548.10" cy="412.55" rx="41.70" ry="44.35" fill="none" stroke="#6a64d4" stroke-width="0.8" opacity="0.8"/>
<rect x="596.50" y="367.50" width="84.90" height="90.10" fill="#fff" stroke="#333" stroke-width="1"/>
<g clip-path="url(#cp12)"><ellipse cx="638.95" cy="412.55" rx="41.85" ry="44.65" fill="#c4c2ea"/><path d="M670.2 386.5h0M607.6 405.5h0M635.1 378.3h0M635.2 446.2h0M673.6 429.4h0M667.9 437.8h0M665.9 396.7h0M627.6 392.4h0M608.7 438.1h0M617.2 408.2h0M659.6 437.7h0M613.6 387.6h0M678.8 404.5h0M657.1 447.3h0M662.3 449.4h0M655.4 372.6h0M616.2 392.3h0M625.3 446.2h0M644.5 456.7h0M616.8 436.1h0M619.2 374.7h0M670.6 392.2h0M671.3 426.9h0M643.2 424.5h0M632.7 445.1h0M636.5 375.0h0M656.4 447.0h0M601.2 412.4h0M658.3 407.6h0M602.3 410.9h0M631.1 426.8h0M620.2 378.1h0M617.6 395.3h0M659.6 444.0h0M658.9 381.2h0M613.8 420.4h0M613.5 447.9h0M629.7 439.9h0M606.1 412.4h0M642.3 444.3h0M637.6 444.2h0M628.9 439.2h0M647.0 454.7h0M653.4 442.1h0M666.0 382.9h0M651.6 402.4h0M628.1 410.4h0M616.8 381.6h0M641.2 385.2h0M625.5 378.4h0M639.3 377.1h0M640.6 457.1h0M616.8 416.7h0M659.9 445.8h0M665.9 425.3h0M621.0 375.0h0M611.2 385.0h0M630.1 372.4h0M646.9 420.2h0M644.0 423.5h0M601.9 432.0h0M663.3 443.9h0M605.3 421.9h0M656.2 401.7h0M654.7 377.6h0M629.9 421.6h0M645.2 453.5h0M623.8 448.6h0M657.4 392.9h0M662.7 441.0h0M629.6 434.4h0M613.0 377.9h0M659.1 404.5h0M631.4 452.1h0M616.5 446.6h0M623.8 375.6h0M657.8 426.3h0M608.5 442.8h0M657.3 377.5h0M644.1 437.0h0M680.5 413.6h0M602.0 408.1h0M615.2 413.7h0M623.0 453.3h0M598.1 414.7h0M597.8 412.2h0M607.9 405.1h0M653.4 371.1h0M651.3 450.1h0M627.5 375.2h0M646.0 391.6h0M613.0 394.7h0M665.6 392.1h0M600.2 429.0h0M609.7 433.1h0M604.7 426.4h0M605.0 394.0h0M652.3 372.4h0M621.2 376.6h0M622.9 437.5h0M604.4 422.8h0M623.5 445.1h0M670.4 399.6h0M633.6 444.6h0M601.8 417.8h0M673.4 402.0h0M608.1 397.9h0M671.8 429.0h0M675.8 432.2h0M604.7 419.8h0M679.2 419.3h0M644.4 372.0h0M655.7 372.0h0M611.8 393.7h0M658.2 403.0h0M619.5 433.8h0M670.0 441.2h0M607.1 433.1h0M623.8 376.5h0M647.7 441.8h0M604.8 387.4h0M661.8 440.7h0M663.0 397.1h0M671.0 425.3h0M636.4 430.0h0M644.3 453.6h0M651.6 403.0h0M663.7 380.7h0M663.3 402.0h0M671.1 400.2h0M634.4 387.7h0M631.3 374.7h0M628.4 369.9h0M653.2 443.0h0M643.7 390.5h0M615.4 397.5h0M646.8 456.1h0M679.4 404.1h0M657.7 448.8h0M624.1 376.5h0M657.1 372.5h0M670.7 401.6h0M629.0 374.3h0M665.9 415.4h0M671.3 440.3h0M665.3 419.3h0M635.7 385.1h0M610.3 399.4h0M600.5 401.9h0M617.2 450.3h0M666.0 426.8h0M632.1 369.7h0M618.8 451.0h0M651.5 425.4h0M649.2 400.1h0M647.0 376.9h0M659.7 410.0h0M622.4 417.0h0M619.8 380.0h0M603.4 412.8h0M668.0 420.0h0M618.7 434.8h0M629.4 377.5h0M666.6 397.6h0M616.2 425.4h0M652.5 450.2h0M670.9 421.2h0M662.5 448.1h0M623.7 390.0h0M657.2 432.9h0M659.3 391.7h0M669.4 421.1h0M628.9 390.1h0M612.9 380.3h0M664.2 408.8h0M638.7 412.8h0M670.4 437.4h0M674.9 420.2h0M658.7 397.7h0M672.5 386.6h0M664.8 394.5h0M641.9 438.6h0M647.4 385.4h0M614.8 395.1h0M616.8 417.2h0M657.4 402.4h0M632.0 450.8h0M619.8 446.7h0M601.4 430.8h0M664.9 412.6h0M614.5 442.2h0M634.2 455.5h0M646.0 381.6h0M650.4 369.8h0M665.5 395.8h0M608.8 399.1h0M628.9 429.0h0M640.2 387.5h0" stroke="#4630c0" stroke-width="2.0" stroke-linecap="round" fill="none" opacity="1"/><path d="M615.9 402.2h0M636.1 381.8h0M645.4 369.8h0M624.8 452.3h0M654.0 439.4h0M658.4 435.9h0M633.0 433.9h0M654.1 430.3h0M654.7 446.8h0M612.4 431.2h0M601.2 430.7h0M630.0 455.3h0M675.4 429.4h0M653.5 425.5h0M666.7 381.6h0M630.4 384.6h0M611.6 400.5h0M614.6 418.9h0M612.9 412.5h0M608.2 403.3h0M630.8 445.8h0M606.7 418.5h0M623.5 376.3h0M612.8 398.5h0M608.1 394.1h0M671.5 395.7h0M620.6 385.9h0M666.8 389.6h0M609.7 396.0h0M599.5 418.8h0M617.4 421.5h0M680.2 410.1h0M617.4 430.9h0M669.1 390.5h0M662.7 412.9h0M666.3 436.9h0M620.7 374.8h0M673.0 430.1h0M620.2 448.4h0M670.6 385.8h0M607.9 437.8h0M648.9 446.0h0M655.1 446.4h0M678.3 403.8h0M638.3 447.4h0M668.3 444.1h0M659.3 441.3h0M619.7 373.4h0M620.5 378.0h0M630.8 424.4h0M668.9 406.2h0M630.3 435.1h0M668.3 399.5h0M628.3 448.5h0M661.0 388.0h0M654.7 391.6h0M635.3 406.9h0M638.4 451.8h0M654.7 390.2h0M673.1 421.3h0M618.4 403.4h0M665.5 399.9h0M649.2 396.0h0M665.6 410.7h0M622.0 372.3h0M661.5 392.7h0M633.6 380.9h0M610.6 436.2h0M616.0 421.5h0M623.9 371.8h0M654.1 394.8h0M623.5 378.2h0M617.8 403.5h0M657.2 450.2h0M663.5 389.5h0M674.6 431.4h0M605.9 403.4h0M667.4 440.1h0M599.6 398.1h0M658.8 373.6h0M627.4 404.9h0M646.6 379.5h0M620.6 396.5h0M611.7 407.1h0M616.9 398.5h0M654.9 403.7h0M626.6 449.4h0M645.3 444.8h0M661.6 433.1h0M626.4 383.8h0M654.4 428.4h0M651.5 371.6h0M680.3 411.6h0M653.5 372.6h0M631.5 379.2h0M606.8 433.0h0M632.2 403.6h0M602.5 403.4h0M669.3 386.8h0M605.6 414.8h0M600.1 426.9h0M641.3 444.9h0M674.7 393.0h0M653.8 441.6h0M673.2 393.9h0M659.5 440.9h0M667.2 396.7h0M656.3 434.0h0M633.0 398.3h0M619.7 427.4h0M660.2 428.4h0M665.6 427.6h0M651.8 432.6h0M661.4 375.8h0M606.5 435.3h0M597.7 405.8h0M619.3 389.9h0M617.2 388.9h0M663.7 404.9h0M630.1 383.1h0M672.8 405.5h0M675.5 393.1h0M672.5 385.9h0M615.8 411.1h0M626.1 381.2h0M653.4 432.9h0M628.3 374.7h0M633.1 378.7h0M607.9 399.0h0M622.3 403.2h0M623.8 446.3h0M642.4 424.2h0M658.0 389.8h0M602.0 394.1h0M646.1 449.1h0M602.7 414.5h0M645.3 436.4h0M657.2 436.4h0M640.7 456.2h0M601.1 410.7h0M634.3 370.1h0M619.0 413.9h0" stroke="#4630c0" stroke-width="1.0" stroke-linecap="round" fill="none" opacity="1"/></g>
<ellipse cx="638.95" cy="412.55" rx="41.55" ry="44.35" fill="none" stroke="#8a86d8" stroke-width="0.8" opacity="0.8"/>
<text x="0" y="0" font-size="14.2" text-anchor="middle" fill="#111" transform="translate(410.50,312.50) rotate(-90) scale(0.93,1)">MDA-MB-231</text>
<text x="0" y="0" font-size="14.2" text-anchor="middle" fill="#111" transform="translate(410.50,416.00) rotate(-90) scale(0.93,1)">MCF-7</text>
<text transform="translate(433.80,475.00) scale(0.93,1)" font-size="14.2" text-anchor="end" font-weight="normal" fill="#111" >Andro(μM):</text>
<text transform="translate(453.40,474.30) scale(0.93,1)" font-size="14.2" text-anchor="middle" font-weight="normal" fill="#111" >0</text>
<text transform="translate(549.00,474.30) scale(0.93,1)" font-size="14.2" text-anchor="middle" font-weight="normal" fill="#111" >10</text>
<text transform="translate(638.80,474.30) scale(0.93,1)" font-size="14.2" text-anchor="middle" font-weight="normal" fill="#111" >20</text>
</svg></body></html>
